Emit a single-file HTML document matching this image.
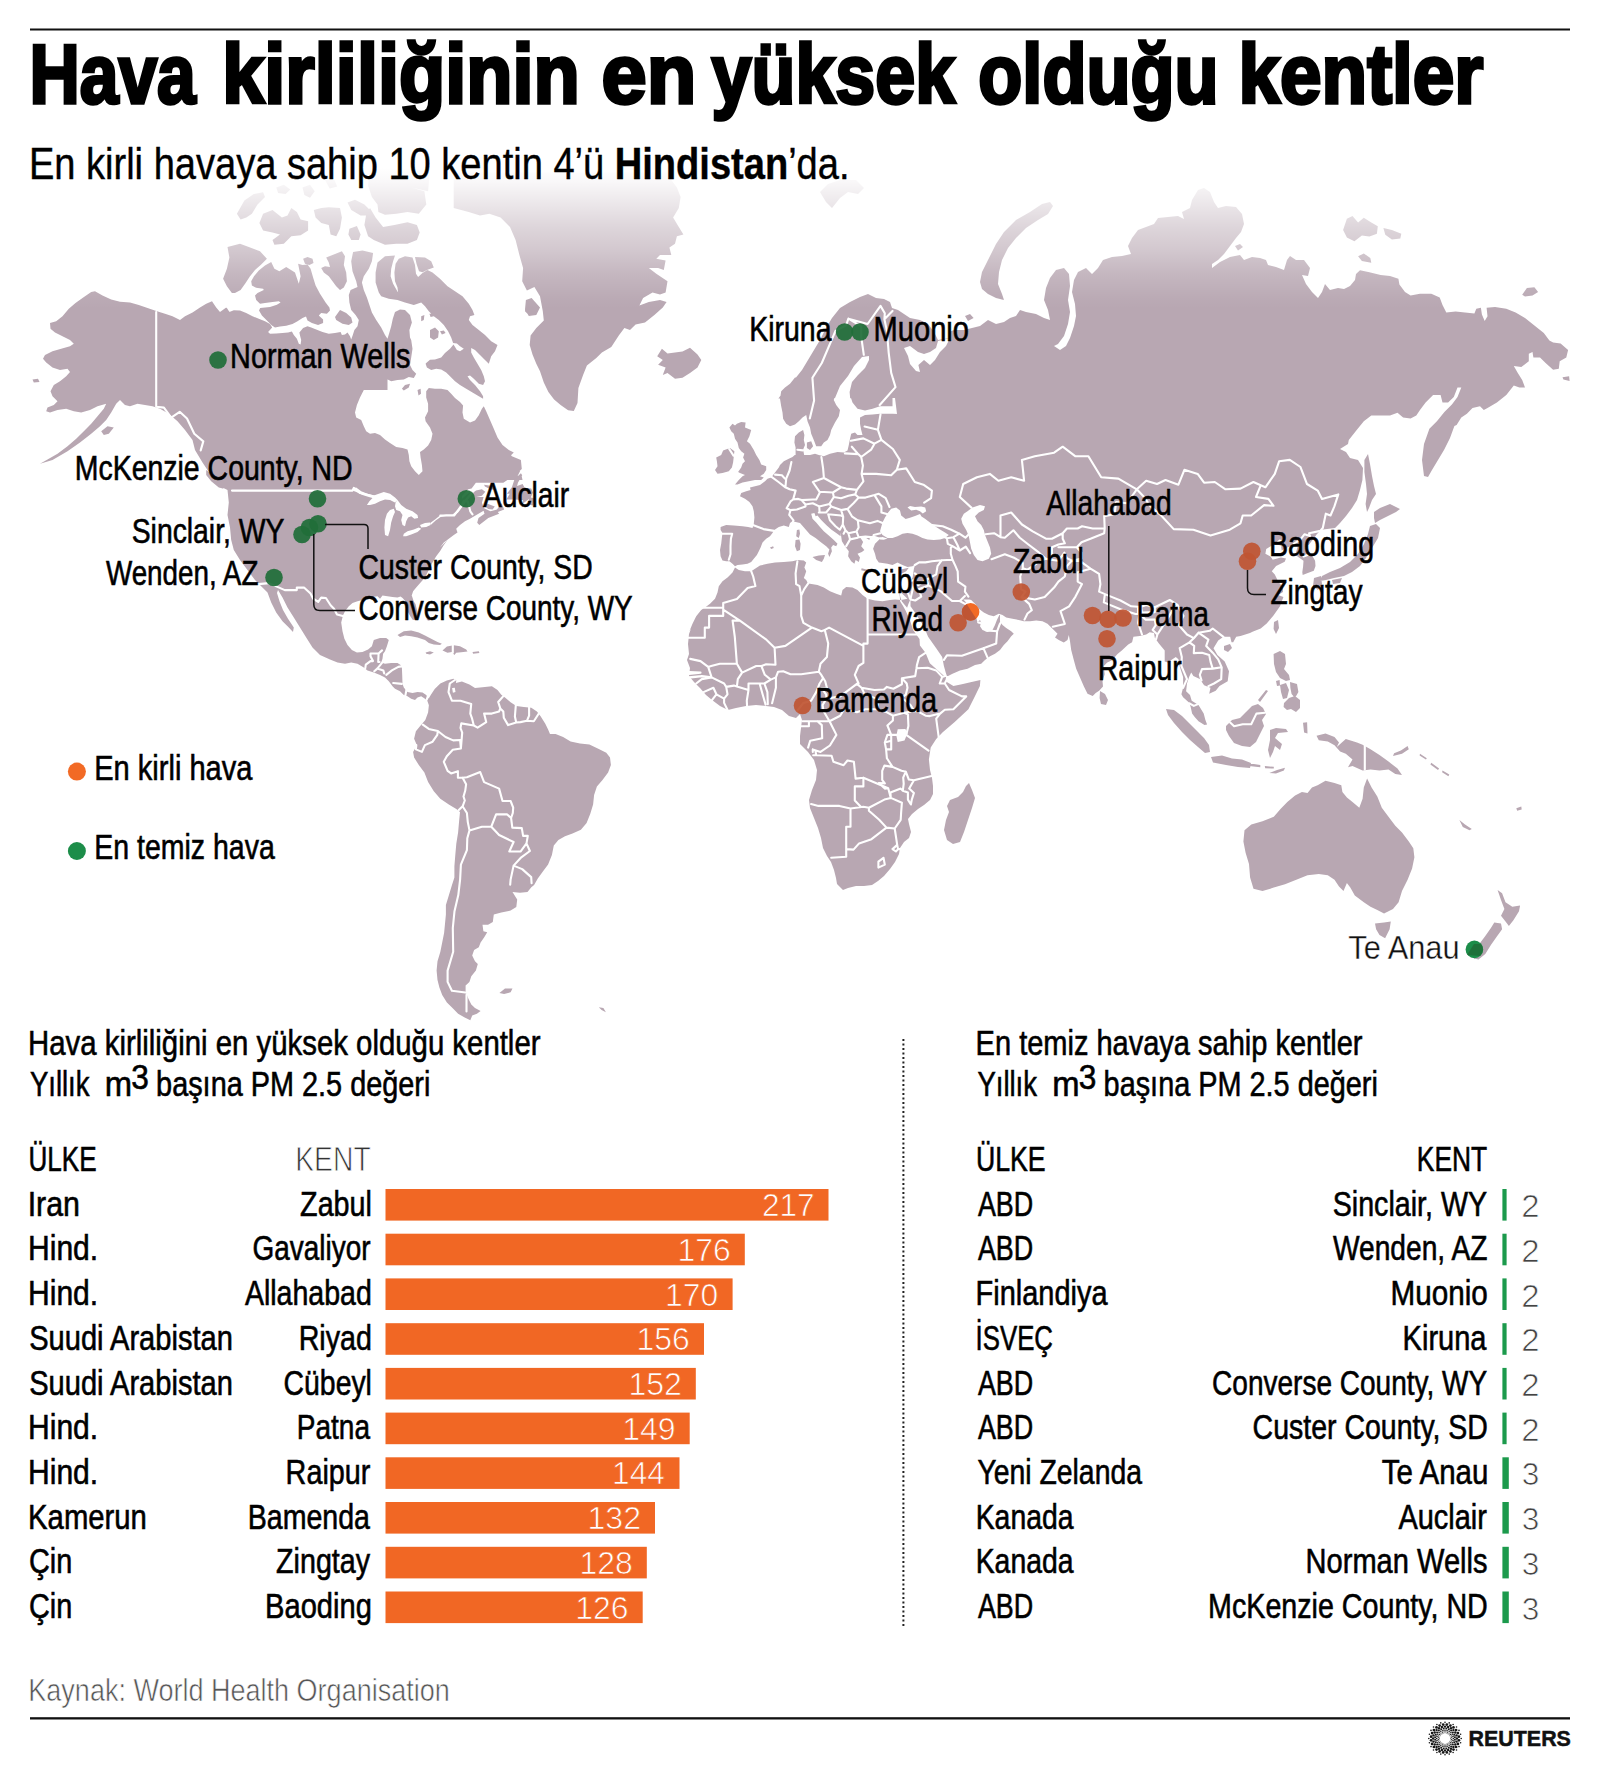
<!DOCTYPE html>
<html lang="tr"><head><meta charset="utf-8"><title>Hava kirliliğinin en yüksek olduğu kentler</title>
<style>
html,body{margin:0;padding:0;background:#fff}
body{width:1600px;height:1784px;overflow:hidden}
svg{display:block}
text{font-family:"Liberation Sans",sans-serif}
</style></head><body>
<svg width="1600" height="1784" viewBox="0 0 1600 1784">
<defs>
<linearGradient id="fade" gradientUnits="userSpaceOnUse" x1="0" y1="168" x2="0" y2="309">
<stop offset="0" stop-color="#fff" stop-opacity="1"/>
<stop offset="0.085" stop-color="#fff" stop-opacity="0.93"/>
<stop offset="0.252" stop-color="#fff" stop-opacity="0.73"/>
<stop offset="0.418" stop-color="#fff" stop-opacity="0.53"/>
<stop offset="0.586" stop-color="#fff" stop-opacity="0.37"/>
<stop offset="0.752" stop-color="#fff" stop-opacity="0.18"/>
<stop offset="0.92" stop-color="#fff" stop-opacity="0.04"/>
<stop offset="1" stop-color="#fff" stop-opacity="0"/>
</linearGradient>
</defs>
<rect width="1600" height="1784" fill="#fff"/>

<g id="land" fill="#b8a7b2" stroke="none">
<path d="M227.5,246.9 L240,243.8 L248.8,246.9 L260,251.2 L266.9,258.8 L261.2,264.4 L255,270 L250,276.2 L245.6,283.1 L240.6,290 L235,293.1 L231.9,293.1 L226.9,286.2 L223.1,278.8 L226.9,268.8 L229.4,257.5Z M271.2,261.9 L274.4,268.8 L279.4,271.2 L286.2,266.9 L295,272.5 L298.8,283.8 L300.6,276.2 L298.1,263.8 L302.5,265 L307.5,264.4 L310.6,268.8 L313.1,277.5 L315.6,285.6 L320,293.8 L325.6,302.5 L329.4,307.5 L330,310.6 L326.9,313.8 L321.2,313.1 L318.8,315.6 L323.1,319.4 L323.1,323.1 L318.1,325 L311.9,323.1 L307.5,320.6 L306,316.5 L302.5,318.1 L297.5,321.2 L292.5,324 L286.2,325.8 L280,326.5 L275,327.5 L271.9,325.6 L266.9,320.6 L261.9,315.6 L259,310.6 L260.2,308.1 L270,306.9 L276.9,304.8 L280.6,302.5 L278.8,301.2 L272.5,301.9 L265,303.1 L260,303.8 L256.2,300 L255,295.6 L257.5,293.1 L263.8,290 L263.1,288.8 L256.2,287.8 L251.9,285.6 L251.2,281.2 L254,276.2 L258.8,270.6 L265,265.6Z M303.1,258.8 L307.5,256.9 L312.5,258.8 L313.5,263.1 L309.4,265 L305,263.8Z M220,313.1 L224.4,311.9 L226.9,308.1 L229.4,311.9 L233.8,310.2 L240,310.6 L246.2,313.1 L252.5,316.2 L258.8,318.8 L265,321.2 L270,324 L272.2,327.5 L268.1,331.9 L270,333.8 L276.2,333.5 L282.5,333.1 L288.1,332.5 L291.9,331.5 L293.8,335 L296.9,338.8 L298.8,343.8 L300.6,344.4 L301.2,340 L300,335.6 L299.4,332.5 L303.1,328.1 L307.5,326.2 L311.2,327.5 L316.2,329.4 L322.5,331.9 L328.8,333.8 L335,333.1 L340.6,331.9 L341.9,335 L345,334.4 L347.5,332.5 L350,336.2 L351.2,339.4 L352.8,335 L354.4,330 L357.5,326.2 L358.8,320 L355.6,315 L351.2,310 L349.4,302.5 L348.8,295 L350.6,290 L357.5,286.9 L356.2,281.2 L352.5,271.2 L351.2,261.2 L353.1,251.9 L362.5,250.6 L373.1,253.1 L371.9,261.2 L368.8,268.8 L363.8,276.2 L361.9,282.5 L363.8,290 L366.9,297.5 L369.4,305 L371.9,312.5 L376.2,320 L381.2,327.5 L385,335 L387.5,338.8 L387.5,390 L220,390Z M340,310 L346.2,313.1 L351.2,317.5 L352.5,322.5 L348.8,325 L342.5,323.8 L336.2,320 L335,316.9Z M326.2,257.5 L332.5,255 L341.9,251.2 L345,256.2 L343.8,265 L346.2,272.5 L346.9,281.2 L343.8,287.5 L340,290 L336.2,286.2 L332.5,281.2 L328.8,276.2 L323.8,272.5 L321.2,268.1 L325,266.2 L330,266.9 L328.8,262.5Z M377.5,262.5 L385,256.2 L395,255.6 L393.1,261.2 L391.2,268.8 L390.6,276.2 L393.1,283.8 L396.9,290.6 L398.1,292.5 L397.5,287.5 L395,281.2 L394.4,272.5 L395.6,263.8 L398.8,258.8 L405,256.2 L412.5,257.5 L415,265 L416,273.8 L418.1,276.9 L422.5,273.1 L427.5,270 L432.5,272.5 L440,278.8 L447.5,286.2 L455,291.2 L462.5,296.2 L468.8,303.8 L472.5,310 L474.4,315 L470,316.2 L468.8,320 L472.5,325 L478.8,330 L485,335 L491.2,341.2 L497.5,345 L495,351.2 L491.2,356.2 L488.8,363.8 L485,360 L480,355 L475,350 L471.2,348.1 L471.2,352.5 L473.8,357.5 L477.5,363.8 L481.2,370 L483.8,376.2 L485,381.2 L483.1,385 L478.8,383.8 L473.8,378.8 L470,375.6 L467.5,376.2 L470,380 L475,385 L480,391.2 L483.1,396.2 L483.1,398.8 L478.8,396.2 L472.5,392.5 L466.2,388.8 L460,385 L455,381.2 L450,376.2 L446.2,372.5 L441.2,369.4 L436.2,368.8 L431.2,370 L426.9,367.5 L425.6,363.8 L426.2,363.1 L430,359.8 L435,359.4 L441.2,357.5 L445,353.1 L450,348.8 L453.5,344.4 L456.9,350 L460,351.2 L463.8,348.8 L460,346.2 L456.9,343.5 L453.1,343.1 L451.2,337.5 L448.1,331.2 L443.8,325 L438.8,320 L433.8,316.2 L428.8,311.2 L425,306.2 L421.2,302.5 L413.8,305 L405,302.5 L397.5,300 L388.8,298.8 L381.2,296.2 L378.8,292.5 L375.6,282.5 L375.6,272.5Z M415,256.9 L425,257.5 L431.2,261.2 L433.8,267.5 L427.5,269.8 L422.5,272.2 L419,271.2 L416.5,263.8Z M430,330 L435,327.5 L438.8,331.2 L438.1,337.5 L433.8,340 L430,337.5Z M440,331.2 L443.8,330.6 L445.6,333.1 L441.9,334.4Z M421.2,316.2 L424.4,315 L423.8,320 L421.2,321.2Z M429.4,313.8 L432.5,313.1 L433.8,316.2 L430.6,316.9Z M525.6,305 L531.2,303.8 L537.5,307.5 L536.2,313.8 L530,316.2 L525,311.2Z M40,463.8 L47.5,459.5 L57.5,453.8 L67.5,446.2 L76.2,438.8 L83.8,431.2 L91.2,423.8 L97.5,416.2 L103.8,408.8 L106.2,403.8 L97.5,406.2 L90,410 L81.2,412.5 L73.8,411.2 L66.2,408.8 L57.5,410 L50,412.5 L46.2,411.2 L47.5,407.5 L53.8,405 L57.5,401.2 L52.5,396.2 L50.5,391.2 L53.8,385 L60,381.2 L66.2,376.2 L70,372 L67.5,368.8 L60,370 L52.5,367.5 L46.2,362.5 L43,358.8 L45,355 L52.5,351.2 L61.2,348.8 L70,346.2 L73.8,343.8 L70,340 L62.5,336.2 L55,332.5 L50.5,328.8 L50,323 L56.2,321.2 L62.5,316.2 L68.8,308.8 L75.5,303 L82.5,298 L91.2,292 L95,291.2 L102.5,295.5 L111.2,299.5 L120,301.8 L130,302.5 L138.8,305 L147.5,308 L157,311.2 L165,313.8 L172.5,316.2 L180,320 L185,316.2 L192.5,312.5 L200,307.5 L206.2,303.8 L212,301.2 L216.2,307.5 L220,312 L226.2,307.5 L230,312.5 L230,480 L213.8,480 L212.5,477.5 L202.5,462.5 L195,450 L192.5,440 L185,430 L177.5,421.2 L168.8,413.8 L160,408.8 L152.5,406.2 L145,405 L137.5,403.8 L130,406.2 L125,405 L120,400 L116.2,403.8 L111.2,412.5 L106.2,420 L100,426.2 L91.2,433.8 L80,442.5 L67.5,451.2 L52.5,460Z M101.2,431.2 L107.5,426.2 L113.8,427.5 L108.8,433.8 L103.8,435Z M32.5,379.5 L38,378.8 L39.5,382 L33.8,382.5Z M387.5,338.8 L389.4,332.5 L391.2,326.2 L392.8,318.8 L395,311.9 L400,309.4 L405,310 L410,315 L411.9,322.5 L409.4,330 L410,337.5 L411.2,340 L412.5,348.8 L411.2,357.5 L410,365 L412.5,370 L416.2,373.8 L413.8,378.1 L408.8,376.9 L403.8,379.4 L397.5,380 L391.2,381.2 L386.2,378.8 L378.8,378.1 L372.5,380 L367.5,385 L363.8,390 L360,397.5 L356.9,405 L355,412.5 L356.2,417.5 L361.2,420 L363.8,426.2 L366.2,431.2 L370,433.8 L375,433.1 L380,435 L385,439.4 L390,443.1 L396.2,446.9 L402.5,448.1 L407.5,449.4 L408.8,455 L409.4,461.2 L411.2,466.2 L415,471.2 L418.8,475 L422.5,471.2 L421.9,465 L420.6,457.5 L420,451.9 L423.8,449.4 L428.1,445.6 L431.2,440 L432.5,433.8 L430,427.5 L425.6,421.2 L425,417.5 L428.1,411.2 L428.1,403.8 L426.2,397.5 L426.2,391.2 L428.8,388.1 L435,388.8 L441.2,388.8 L447.5,390 L451.2,393.8 L455,398.1 L460,401.9 L463.1,405.6 L462.5,412.5 L463.8,418.8 L470,422.5 L475,420.6 L478.8,415.2 L481.9,408.8 L483.8,406.2 L486.2,411.2 L490,420 L493.8,428.8 L497.5,437.5 L502.5,445 L508.8,450 L513.8,452.5 L510,456.2 L503.8,460.6 L510,458.1 L517.5,460 L521.2,465 L520,471.2 L517.5,476.2 L521.2,473.8 L522.5,480 L280,480 L280,346.2 L387.5,346.2Z M401.9,388.8 L405,385 L410,383.8 L408.8,387.5 L403.8,390.6Z M417.5,390 L420.6,388.8 L421,393.8 L418.5,395.6Z M190,435 L350,435 L350,476 L425,476 L425,500 L457.1,503.3 L462.6,498.2 L466.9,494.4 L471.2,491.5 L481.9,489.3 L485.3,491.8 L481.9,495.7 L476.3,497 L483.6,497 L481.9,502.7 L484.1,508.2 L490.5,511.3 L495.2,510.1 L496.9,509.5 L501.6,503.3 L504.2,509.5 L497.8,511.9 L499.1,513.7 L488.3,517.9 L479.3,525.1 L477.2,522.7 L478.5,517.9 L484.5,513.7 L483.6,510.7 L477.6,514.3 L470,518.8 L465,521.2 L460,525 L456.2,528.8 L457.5,532.5 L453.8,535 L448.8,538.8 L443.8,542.5 L440,547.5 L447.5,540 L443.8,545 L440,551.2 L436.2,556.2 L432.5,562.5 L428.8,570 L425,577.5 L420.6,582.5 L416.2,587.5 L413.1,591.2 L411.9,595 L411.6,595.1 L413.8,601.5 L415.5,603.9 L417.2,611.1 L417.2,616.8 L415.9,619.6 L412.9,620.1 L410.3,616.3 L408.2,612.5 L405.6,607.3 L406,601.9 L402.6,598 L400.5,596.6 L397.5,597.5 L392.5,596.9 L387.5,596.2 L382.5,595.6 L380,598.8 L377.5,596.2 L372.5,596.9 L367.5,598.1 L362.5,600 L357.5,601.2 L352.5,603.1 L348.8,606.2 L345,611.2 L343.1,615 L341.2,622.5 L342.5,631.2 L344.4,638.8 L347.5,645 L351.9,650 L356.9,652.5 L362.5,651.9 L368.1,649.4 L371.9,646.2 L373.8,640 L380,638.1 L386.2,638.1 L388.8,640 L386.9,646.2 L385,651.2 L383.1,653.8 L382.5,658.8 L381.2,662.5 L385,663.8 L391.2,663.1 L397.5,663.1 L400.6,665 L401.9,668.1 L402.2,675 L402.5,683.8 L403.8,687.5 L407.5,691.9 L412.5,693.1 L417.5,691.9 L422.5,692.5 L426.2,695 L428.8,698.8 L430,700 L428.8,705 L427.5,701.2 L425,698.8 L421.2,696.2 L417.5,697.5 L415,700 L411.2,698.8 L407.5,696.2 L403.8,695 L400,691.2 L395,688.8 L392.5,686.2 L388.8,681.2 L385,677.5 L380,675 L373.8,672.5 L367.5,670.6 L363.8,667.5 L357.5,663.8 L351.2,662.5 L345,663.8 L337.5,662.5 L330,659.5 L320,655 L312.5,647.5 L306.2,637.5 L300,627.5 L293.8,617.5 L287.5,607.5 L282.5,597.5 L278,590 L277,593 L279.5,601.2 L283,610 L288,618.8 L293.8,627.5 L293,632 L288.8,627.5 L282.5,621.2 L276.2,612.5 L271.2,602.5 L267.5,592.5 L261.2,586.2 L255,580 L247.5,570 L240,560 L233.8,550 L231.2,540 L230,527.5 L227.5,515 L228.8,502.5 L227.5,490 L220,486.2 L212.5,477.5 L202.5,462.5 L195,450 L192.5,437.5Z M443.3,509.5 L443.3,490.6 L477.6,463.5 L505.5,449 L511.9,456.3 L520.9,459.9 L521.8,469.1 L515.8,474.6 L503.3,482.7 L488.3,482.7 L475.9,482.7 L471.6,488.6 L468.2,489.3 L461.8,496.3 L456.2,503.9Z M206.2,470 L211.2,473.8 L218.8,483.8 L223.8,488.8 L218.8,487.5 L211.2,481.2 L206.2,475Z M520.9,473.2 L522.2,475.3 L517.9,482.7 L517.1,486 L522.6,484 L524.8,487.9 L531.2,488.6 L532.9,492.5 L530.8,497.6 L534.2,498.2 L534.6,499.5 L532.9,505.5 L528.2,504.5 L529.1,498.9 L522.2,503.9 L523.1,500.1 L514.1,499.5 L506.3,499.5 L509.8,493.8 L506.8,493.8 L511.9,487.3 L514.5,479.3Z M484.9,506.4 L486.2,503.3 L494.8,506.4 L492.6,509.5 L488.3,508.9Z M484.1,484.7 L492.6,486 L496.1,489.9 L490.5,489.3 L484.9,486.6Z M397.5,635 L403.8,631.2 L411.2,630.6 L418.8,632.5 L425,635.6 L431.2,638.8 L437.5,641.9 L441.9,643.8 L440,645 L433.8,644.4 L428.8,643.1 L425,640 L417.5,637.5 L411.2,636.2 L405,635.6 L400,636.9Z M425.6,652.5 L430,651.2 L433.8,652.5 L430,654.4 L426.2,653.8Z M442.5,650.6 L446.9,646.5 L453.8,645.2 L460,646.2 L466.2,649.4 L467.5,651.5 L461.2,652.2 L456.2,652.8 L454.4,655 L451.9,651.9 L447.5,652.8Z M472.5,651.9 L478.8,651.2 L479.4,653.1 L473.1,653.8Z M426.2,615 L428.8,614.4 L430.2,618.1 L429.4,621 L426.9,620Z M200,380 L292,380 L292,442 L200,442Z M422,476 L462,476 L462,506 L422,506Z M453.7,172.5 L667.5,172.5 L671.3,180 L676.9,187.5 L680.6,196.9 L678.8,208.1 L673.1,217.5 L678.8,226.9 L683.4,234.4 L676.9,236.3 L675,243.8 L669.4,247.5 L671.3,255 L660,255 L656.3,258.8 L665.6,260.6 L663.8,270 L658.1,268.1 L648.8,268.1 L656.3,273.8 L667.5,281.3 L665.6,292.5 L660,294.4 L652.5,292.5 L643.1,298.1 L639.4,305.6 L648.8,301.9 L660,300 L666.6,301.9 L662.8,307.5 L654.4,315 L645,322.5 L635.6,324.4 L630,330 L624.4,328.1 L618.8,335.6 L611.3,346.9 L601.9,352.5 L596.3,358.1 L586.9,365.6 L583.1,375 L578.4,388.1 L577.5,403.1 L573.8,411 L568.1,410.3 L560.6,405 L554.1,399.4 L548.4,391.9 L543.8,382.5 L540,371.3 L536.3,363.8 L532.5,354.4 L529.7,345 L530.6,335.6 L536.3,328.1 L543.8,320.6 L542.8,311.3 L540,296.3 L534.4,286.9 L526.9,290.6 L522.2,281.3 L523.1,268.1 L519.4,255 L515.6,240 L510,226.9 L500.6,217.5 L489.4,213.8 L480,215.6 L468.7,211.9 L453.7,208.1Z M525.9,300 L531.6,298.1 L540,307.5 L536.3,315 L528.8,315.9 L525,309.4Z M657.2,356.3 L661.9,348.8 L667.5,353.4 L675,352.5 L682.5,351.6 L690,347.8 L697.5,354.4 L701.3,360 L697.5,367.5 L690,373.1 L682.5,377.8 L675,378.8 L667.5,373.1 L662.8,375 L665.6,367.5 L658.1,364.7 L662.8,360Z M428.7,698.4 L430.9,694.7 L434.7,689.1 L440.3,683.4 L446.9,680.6 L453.4,678.8 L456.3,680.3 L455.9,682.9 L461.9,681.6 L469.4,684.4 L475,688.1 L482.5,687.2 L491.9,686.3 L497.5,690 L501.3,694.7 L505,697.5 L510.6,702.2 L516.3,705.9 L523.8,706.9 L531.3,707.8 L536.9,711.6 L540.6,716.3 L545.3,723.8 L548.1,729.4 L550,734.1 L555.6,734.1 L563.1,736.9 L570.6,741.6 L580,743.4 L589.4,744.4 L598.8,749.1 L606.3,752.8 L610,757.5 L610.9,765 L608.1,772.5 L602.5,780 L596.9,786.6 L594.1,795 L593.1,804.4 L590.3,813.8 L586.6,823.1 L580.9,829.7 L572.5,833.4 L565,836.3 L558.4,840 L553.8,845.6 L551.9,855 L548.1,864.4 L542.5,871.9 L537.8,878.4 L534.1,885 L531.3,887.2 L527.5,891.9 L520,892.8 L512.5,891.9 L517.2,899.4 L516.3,906.9 L510.6,910.6 L501.3,912.5 L493.8,914.4 L492.8,921.9 L488.1,924.7 L482.5,924.7 L483.4,931.3 L487.2,932.2 L484.4,936.9 L480.6,942.5 L478.8,947.2 L474.1,950 L472.2,955.6 L475,961.3 L477.8,964.1 L475.9,970.6 L471.3,976.3 L469.4,981.9 L465.6,985.6 L465.6,991.3 L468.4,998.8 L471.3,1004.4 L475,1008.1 L480.6,1010.9 L476.9,1013.8 L472.2,1015.6 L470.3,1020.3 L464.7,1017.5 L458.1,1013.8 L452.5,1008.1 L446.9,1002.5 L442.2,995 L439.4,987.5 L437.5,980 L436.6,970.6 L437.5,961.3 L440.3,951.9 L442.2,942.5 L444.1,933.1 L445,923.8 L445.9,914.4 L445.9,905 L448.8,895.6 L451.6,886.3 L454.4,877.5 L454.4,866.3 L455.3,855 L456.3,843.8 L458.1,832.5 L459.1,821.3 L460,811.9 L456.3,809.1 L448.8,804.4 L440.3,798.8 L433.8,791.3 L428.1,781.9 L424.4,772.5 L418.8,765 L414.1,757.5 L413.1,751.9 L416.9,745.3 L414.1,738.8 L415.9,731.3 L420.6,725.6 L425.3,720 L428.1,712.5 L429.1,703.1Z M499.4,993.1 L505,988.4 L512.5,988.4 L510.6,992.2 L504.1,994.1Z M598.8,1007.2 L603.4,1008.1 L605.9,1012.3 L601.6,1010Z M735,567.5 L738.8,570 L745,571.2 L751.2,571.2 L755,568.8 L760,565.6 L767.5,563.8 L775,562.5 L783.8,561.9 L792.5,561.2 L797.5,560 L803.8,560.6 L806.2,562.5 L804.4,567.5 L806.2,571.2 L805,575 L803.8,578.1 L806.2,580 L807.5,582.5 L810,583.8 L817.5,585 L823.8,587.5 L830,591.2 L836.2,593.8 L841.2,595.6 L842.5,590 L846.2,586.9 L852.5,587.5 L857.5,590 L862.5,595 L867.5,598.8 L875,600.6 L882.5,601.2 L890,600 L895,599.4 L901.2,600 L907.5,598.8 L898.9,590.6 L899.8,596.6 L900.2,601.5 L903.2,606.3 L905.8,611.1 L910.1,620.6 L913.1,629.9 L919.5,639.1 L919.9,645.5 L925.5,652.7 L929.8,663.3 L942.7,674.8 L946.1,676.9 L945.2,680.9 L953.4,686.1 L961.9,684.3 L970.5,682.2 L980.4,680 L979.9,686.1 L974.8,696.4 L968.4,709.3 L954.7,722.1 L942.7,732.3 L936.2,739.1 L930.7,747.6 L928.9,759.6 L930,770 L932,778 L933,786 L933,794 L930,800 L924,805 L918,809 L912,814 L908,819 L909,824 L911,832 L909,838 L904,842 L900,848 L899,854 L895,862 L890,869 L884,876 L878,881 L872,885 L864,886 L856,886 L848,888 L843,890 L837,884 L836,878 L834,870 L831,862 L827,856 L823,848 L821,838 L818,828 L814,818 L810,808 L809,800 L812,790 L816,780 L817,770 L814,760 L808,752 L800,744 L800,736 L801,728 L802,720 L800,714 L796,718 L789,716 L782,710 L774,707 L766,706 L756,705 L746,706 L736,708 L728,710 L720,706 L712,700 L706,695 L700,688 L694,682 L689,676 L690,668 L687,660 L689,654 L688,644 L689,634 L692,626 L695,622 L689.4,631.2 L692.5,623.8 L696.2,616.2 L701.2,610 L705,607.5 L710,603.8 L715,598.8 L717.5,592.5 L718.8,586.2 L722.5,581.2 L727.5,577.5 L732.5,572.5Z M969,783 L972,790 L975,798 L972,808 L968,820 L964,832 L960,842 L953,844 L947,840 L944,830 L946,820 L949,812 L947,806 L950,800 L958,797 L963,792 L966,786Z M716.2,457.5 L721.2,455 L723.1,450.6 L730,448.1 L734.4,451.2 L733.8,456.2 L733.1,462.5 L731.9,467.5 L728.8,471.2 L722.5,473.1 L717.5,473.8 L715,470 L717.5,466.2 L716.9,461.2Z M736.9,423.8 L741.2,421.9 L745.6,422.5 L745,427.5 L751.2,430 L749.4,436.2 L746.9,441.2 L750,443.8 L753.8,450 L756.2,455 L759.4,460 L761.2,464.4 L766.2,466.2 L766.2,470 L763.8,473.8 L760,476.2 L763.8,477.5 L761.2,480 L755,480 L748.8,481.2 L742.5,482.5 L737.5,484.4 L735,484.4 L738.8,480 L742.5,476.2 L745,475 L740,473.1 L738.1,471.9 L741.2,467.5 L742.5,463.8 L745,461.2 L743.1,457.5 L744.4,453.8 L741.2,451.2 L738.8,448.1 L737.5,442.5 L735,438.8 L733.8,433.8 L731.2,431.2 L729.4,427.5 L732.5,423.8 L735,425.6Z M841.2,377.5 L840,382.5 L837.5,387.5 L835,393.8 L833.8,400 L836.2,405 L840,410 L838.8,416.2 L835,422.5 L831.2,430 L830,435 L827.5,440 L823.8,442.5 L821.2,446.2 L816.2,446.2 L813.8,440 L811.2,433.8 L810,427.5 L807.5,421.2 L806.2,415 L802.5,417.5 L798.8,421.2 L795,424.4 L790,426.2 L786.2,423.8 L783.1,418.8 L782.5,412.5 L781.2,406.2 L780,398.8 L781.2,391.2 L785,387.5 L790,383.8 L795,377.5Z M892.5,377.5 L892.5,406.2 L880,406.2 L872.5,408.8 L865,410.6 L857.5,408.8 L852.5,402.5 L850,395 L849.4,387.5 L850,377.5Z M795,436.2 L798.8,432.5 L803.1,430 L804.4,435 L803.8,440 L805,445 L803.1,449.4 L804.4,456.2 L795.6,456.2 L795.6,447.5 L794.4,442.5Z M806.9,442.5 L811.2,441.2 L813.1,446.2 L810,450 L806.9,448.1Z M792.5,521.2 L790,523.1 L788.8,526.9 L783.8,525.6 L778.8,526.9 L775,529.4 L771.9,533.8 L770,536.2 L766.2,538.8 L762.5,542.5 L760.6,547.5 L758.8,551.2 L756.9,555 L753.8,558.8 L751.2,561.9 L747.5,563.8 L742.5,564.4 L737.5,565 L735,566.2 L732.5,563.8 L729.4,561.2 L726.2,561.2 L722.5,560.6 L720.6,556.2 L720,550 L721.2,543.8 L721.9,537.5 L722.5,533.1 L720.6,530 L720.6,526.9 L726.2,525 L733.8,525.6 L742.5,526.2 L748.1,526.9 L752.5,528.1 L753.8,523.8 L754.4,517.5 L753.8,511.2 L752.5,506.2 L749.4,501.9 L745,498.8 L740,496.2 L741.2,493.1 L746.2,491.2 L750.6,490 L750,487.5 L755,486.2 L760,485 L765,481.2 L767.5,478.8 L771.2,477.5 L775,472.5 L778.8,467.5 L780,465 L783.8,461.2 L788.8,458.8 L792.5,456.9 L796.2,453.8 L803.8,455Z M803.8,455 L810,455 L815,453.8 L818.8,455 L823.8,456.2 L830,453.8 L837.5,451.9 L843.8,452.5 L847.5,450.6 L848.8,445 L850,438.8 L851.2,433.8 L855,432.5 L857.5,435 L862.5,435 L861.2,430 L860,423.8 L860,417.5 L865,415 L872.5,414.4 L880,413.8 L892.5,413.8 L1030,420 L1030,600 L907.5,598.8 L910.6,595 L912.5,588.8 L913.8,583.8 L915,578.8 L916.2,573.8 L917.5,568.8 L918.8,565 L916.2,563.8 L912.5,566.2 L907.5,566.9 L902.5,565 L897.5,562.5 L892.5,565 L887.5,563.8 L882.5,563.1 L878.8,562.5 L876.2,558.8 L875,553.8 L873.1,548.8 L875,543.8 L878.8,540 L881.2,537.5 L879.4,537.5 L875,536 L870,536.2 L869.4,540 L866.2,538.1 L863.1,536.2 L860.6,538.1 L863.1,541.9 L861.2,546.2 L864.4,550 L861.9,551.9 L857.5,553.8 L860,557.5 L858.8,561.9 L855.6,560 L854.4,563.8 L851.2,561.2 L848.1,556.2 L848.8,551.2 L845,546.2 L841.9,541.2 L840.6,532.5 L840.6,536.2 L836.2,533.1 L831.2,529.4 L826.2,525 L821.2,520 L817.5,515.6 L815.6,516.2 L814.4,513.1 L811.2,513.8 L812.5,518.8 L816.2,522.5 L820,526.9 L823.8,531.2 L828.8,535.6 L833.8,540 L837.5,543.8 L836.2,546.2 L833.1,545 L831.2,547.5 L831.9,551.2 L829.4,556.9 L828.1,553.8 L829.4,549.4 L826.2,546.2 L821.2,542.5 L815.6,538.1 L810,534.4 L805,528.8 L800,523.1 L792.5,521.2Z M812.5,556.9 L818.8,555.6 L825,555 L823.8,558.8 L821.9,561.9 L816.2,560Z M795.6,540 L799.4,539.4 L800.6,543.8 L800,550 L796.9,551.2 L795,546.2Z M796.9,530 L799.4,529.4 L800,533.8 L798.8,538.1 L796.2,536.2Z M770,547.5 L773.1,546.2 L773.8,548.1 L771.2,549Z M861.6,568.2 L865.5,569.2 L871.1,569.7 L873.2,570.3 L869.8,571.3 L866.4,571.6 L861.2,570.3Z M898.9,570.8 L901.9,569.2 L908.8,567.7 L906.2,571.3 L901.9,573.4 L899.4,572.9Z M778.4,398.4 L786,388 L794,380 L802,370 L808,360 L814,350 L820,340 L826,328 L832,318 L840,308 L850,302 L860,297 L868,294 L876,298 L884,299 L890,302 L892,308 L898,310 L904,314 L910,318 L920,320 L928,324 L934,332 L938,340 L950,338 L949,332 L954,330 L964,330 L972,328 L980,326 L988,320 L996,324 L1004,322 L1010,318 L1016,316 L1020,310 L1026,312 L1036,314 L1044,318 L1050,320 L1048,310 L1044,300 L1046,288 L1050,278 L1056,270 L1064,268 L1069,274 L1070,286 L1068,300 L1070,312 L1068,324 L1064,336 L1058,344 L1054,346 L1060,350 L1066,346 L1070,338 L1074,326 L1076,316 L1075,304 L1072,292 L1074,280 L1078,272 L1086,268 L1092,274 L1098,268 L1103,260 L1112,257 L1122,256 L1131,254 L1128,246 L1132,238 L1138,230 L1146,227 L1154,224 L1158,218 L1168,217 L1178,216 L1184,219 L1182,212 L1190,208 L1192,200 L1198,190 L1204,188 L1210,192 L1214,202 L1218,208 L1226,206 L1236,207 L1242,214 L1244,224 L1241,232 L1236,238 L1230,246 L1224,254 L1218,260 L1212,264 L1212,268 L1220,262 L1230,257 L1240,255 L1244,260 L1252,257 L1260,258 L1266,260 L1268,265 L1276,267 L1284,270 L1287,260 L1290,256 L1296,260 L1304,260 L1310,268 L1308,276 L1302,275 L1306,284 L1312,292 L1318,298 L1322,292 L1325,284 L1330,290 L1338,288 L1344,289 L1350,286 L1355,280 L1356,274 L1360,270.3 L1369.4,272.2 L1380.6,275 L1390,275.9 L1398.4,278.8 L1399.4,284.4 L1405,291.9 L1410.6,295.6 L1420,293.8 L1431.3,293.8 L1439.7,297.5 L1442.5,305 L1446.3,312.5 L1455.6,311.6 L1465,312.5 L1474.4,313.4 L1476.3,308.8 L1480.9,307.8 L1481.9,314.4 L1484.7,320.9 L1487.5,316.3 L1486.6,307.8 L1495,306.9 L1506.3,308.8 L1515.6,312.5 L1525,318.1 L1534.4,325.6 L1543.8,333.1 L1549.4,340.6 L1553.1,342.5 L1560.6,343.4 L1568.1,350 L1566.3,357.5 L1559.7,361.3 L1558.8,368.8 L1553.1,369.7 L1545.6,363.1 L1540,357.5 L1533.4,357.5 L1532.5,351.9 L1528.8,353.8 L1528.8,361.3 L1521.3,366.9 L1513.8,365.9 L1517.5,372.5 L1522.2,380 L1525,387.5 L1519.4,387.5 L1513.8,385.6 L1506.3,395 L1496.9,402.5 L1487.5,408.1 L1483.8,410 L1480,406.3 L1472.5,408.1 L1466.9,413.8 L1461.3,417.5 L1456.6,425 L1454.4,426 L1450,438 L1444,450 L1438,460 L1432,470 L1428,477 L1424,476 L1422,460 L1424,444 L1429.4,428.8 L1436.9,421.3 L1444.4,411.9 L1451.9,404.4 L1457.5,396.9 L1461.3,387.5 L1457.5,387.5 L1453.8,396.9 L1448.1,402.5 L1442.5,402.5 L1440.6,395 L1433.1,395 L1425.6,402.5 L1420,410 L1416.3,415.6 L1410.6,418.4 L1403.1,417.5 L1397.5,412.8 L1390,415.6 L1380.6,415.6 L1371.3,415.6 L1363.8,421.3 L1356.3,430.6 L1348.8,440 L1348,444 L1340,449 L1346,452 L1350,458 L1358,460 L1363,468 L1362.4,480 L1360,490 L1357,500 L1352,508 L1346,516 L1340,523 L1335,528 L1321.1,529.7 L1316.8,534.3 L1309.1,544.5 L1307.4,545.6 L1307,548.9 L1312.1,555.4 L1315.1,560.8 L1315.5,566.1 L1313.8,570.8 L1307.8,572.9 L1302.7,574.9 L1302.3,572.3 L1303.1,566.6 L1303.5,560.8 L1297.5,556.5 L1295.4,554.3 L1297.5,547.2 L1293.2,545 L1285.5,548.3 L1281.7,550.5 L1281.2,546.7 L1284.2,540.5 L1279.5,539.4 L1273.1,545 L1266.2,548.9 L1265.4,553.8 L1270.5,556.5 L1272.7,559.7 L1280.8,557.6 L1286,558.6 L1284.7,561.8 L1276.1,566.1 L1271.8,571.3 L1274.8,574.4 L1278.2,581.6 L1283,587.6 L1283,592.1 L1278.2,595.1 L1283.4,597.1 L1280,606.3 L1273.1,615.9 L1266.7,623.4 L1260.7,628.5 L1252.5,631.8 L1250,633.1 L1240.5,635.9 L1236.2,636.8 L1233.2,642.3 L1231.5,642.3 L1230.2,636.8 L1223.4,636.8 L1218.2,640.5 L1213.5,648.2 L1217.4,654.9 L1224.7,661.6 L1229,671.3 L1227.7,681.3 L1219.5,686.1 L1215.7,690.8 L1209.2,693.8 L1210.5,687.8 L1204.1,685.2 L1199.8,679.1 L1193.4,676.1 L1191.2,672.6 L1189.1,676.9 L1187,683.5 L1186.1,691.3 L1190,695.1 L1191.7,700.7 L1198.5,705 L1203.7,713.6 L1205.4,720 L1207.1,724.6 L1204.5,725.1 L1198.5,721.2 L1194.7,717 L1192.1,713.6 L1190.8,707.6 L1189.5,702.9 L1183.1,697.3 L1181.4,694.3 L1183.1,687.8 L1183.1,676.9 L1181,670.4 L1179.2,664.7 L1178.4,659.3 L1175.8,657.1 L1169,661.6 L1167.7,662.4 L1164.7,661.6 L1164.7,650.4 L1158.7,643.2 L1154.8,637.7 L1154,633.1 L1149.7,632.2 L1146.2,634.5 L1139.8,635.9 L1133.4,636.8 L1132.1,642.3 L1128.2,644.5 L1121.8,650.4 L1117.5,654 L1112,660.2 L1107.2,662.4 L1103.8,666 L1104.7,674.3 L1102.5,681.3 L1103,686.5 L1099.1,690.8 L1095.7,693 L1092.7,696 L1087.5,693.8 L1083.8,686.2 L1080,677.5 L1076.2,668.8 L1073.8,660 L1071.2,650 L1070,641.2 L1068.8,635 L1067.5,640 L1063.8,642.5 L1058.8,640 L1055,637.5 L1057.5,633.8 L1053.8,630 L1050,626.2 L1047.5,623.8 L1042.5,621.2 L1036.2,620.6 L1030,621.2 L1023.8,621.2 L1018.8,620 L1012.5,618.8 L1006.2,617.5 L1002.5,615 L998.8,613.8 L993.8,616.2 L988.8,615 L983.8,612.5 L978.8,608.8 L975,603.8 L971.2,600 L966.2,598.8 L962.5,598.8 L965,601.2 L968.1,605 L971.2,610 L973.8,613.8 L976.2,617.5 L977.5,622.5 L980,620 L981.2,622.5 L980,626.2 L982.5,630 L987.5,631.9 L992.5,630 L995,625 L996.9,620 L1000,613.8 L1000,621.2 L1002.5,625 L1006.2,628.1 L1011.2,631.2 L1013.8,633.8 L1011.2,636.2 L1007.5,641.2 L1003.8,645 L1000,650 L995,653.8 L990,656.2 L985,660 L981.2,663.8 L975,665 L967.5,668.8 L960,670.6 L952.5,673.8 L948.1,676 L946.9,676.1 L945.7,672.6 L943.9,666 L942.2,657.1 L936.2,648.2 L928.1,636.8 L923.4,625.3 L919.9,620.6 L913.9,611.1 L910.5,606.3 L910.5,599 L908.4,603.9 L907.1,607.8 L901.9,601.5 L900.2,596.6 L899.4,590.6 L905.4,591.1 L907.9,589.1 L910.5,582.6 L912.7,577 L913.9,568.7 L915.7,562.9 L895,398 L852,398Z M980,282 L982,272 L988,260 L996,244 L1004,232 L1016,220 L1030,212 L1042,204 L1050,202 L1053,206 L1048,214 L1038,220 L1026,228 L1016,238 L1008,248 L1002,260 L999,272 L998,284 L1002,294 L1004,300 L996,298 L988,294 L982,289Z M965,316 L970,314 L973.6,318 L968,321Z M820,192 L828,184 L840,180 L856,180 L864,188 L858,194 L848,192 L840,198 L832,208 L826,202Z M1235,246 L1240,244 L1243,247 L1238,250.4Z M1343.1,230 L1346.9,218.8 L1352.5,215.9 L1358.1,222.5 L1363.8,217.8 L1371.3,222.5 L1377.8,226.3 L1376.9,233.8 L1369.4,236.6 L1361.9,235.6 L1354.4,241.3 L1346.9,237.5Z M1383.4,228.1 L1391.9,230 L1401.3,233.8 L1400.3,238.4 L1391.9,239.4 L1385.3,234.7Z M1358.1,256.3 L1363.8,253.4 L1370.3,258.1 L1371.3,262.8 L1361.9,260.9Z M1522.2,294.7 L1526.9,288.1 L1534.4,287.2 L1538.1,291.9 L1532.5,295.6 L1525,296.6Z M1562.5,377.2 L1569.1,376.3 L1569.6,380.9 L1563.4,379.6Z M1368,454 L1370,464 L1372,476 L1374,486 L1376,494 L1372,500 L1369,508 L1367,512 L1365.6,504 L1367,494 L1366,484 L1364.4,472 L1364.4,460Z M1374,512 L1380,508 L1390,504 L1400,509 L1396,512 L1388,516 L1380,520 L1375,523 L1374,518Z M1376,524 L1380,528 L1378,538 L1372,548 L1366,558 L1360,566 L1352,572 L1344,576 L1334,578 L1326,580 L1320,581 L1322,576 L1330,572 L1340,568 L1350,562 L1358,554 L1364,544 L1368,534 L1370,526Z M1332,580 L1342,578 L1340,583 L1333,584Z M1314,578 L1321,576 L1322,584 L1318,590 L1313,586Z M1100,691 L1105,694 L1108,700 L1106,705 L1101,704 L1099.6,698Z M1224,646 L1230,644 L1232,648 L1228,652 L1224,650Z M1274,622 L1278,620 L1279,628 L1276,634 L1273.6,629Z M1166,709 L1174,710 L1182,716 L1190,724 L1198,732 L1204,738 L1209,745 L1210,752 L1205,753 L1198,747 L1190,740 L1182,732 L1174,723 L1168,715Z M1211,757 L1222,755.6 L1232,758.4 L1242,759.6 L1251,763 L1250,768 L1238,767 L1226,765 L1213,762.4Z M1226,726 L1232,720 L1240,718 L1246,712 L1252,706 L1258,704 L1263,708 L1266,714 L1262,720 L1264,726 L1260,734 L1256,742 L1250,747 L1242,746 L1234,743 L1229,736 L1226,730Z M1270,730 L1276,728 L1286,729 L1288,732 L1278,733 L1275,738 L1282,744 L1280,750 L1275,746 L1273,752 L1270,758 L1268,750 L1270,740Z M1273.6,654 L1280,651 L1285,654 L1286,664 L1284,669 L1289,675 L1290,680 L1286,681 L1280,678 L1276,672 L1274,664Z M1284,703 L1289,698 L1295,696 L1300,700 L1300,708 L1296,712 L1291,709 L1287,710 L1283.6,707Z M1258,700 L1266,690 L1268,691 L1260,702Z M1280,685 L1286,683 L1289,690 L1287,698 L1283,699 L1281,692Z M1290,682 L1297,684 L1298.4,692 L1295,698 L1291.6,694 L1290.4,688Z M1276,681 L1279.6,680 L1280,685.6 L1277,686Z M1244.5,830.3 L1251.3,824.6 L1262.5,821.3 L1273.8,816.8 L1280.5,808.9 L1287.3,802.1 L1295.1,795.4 L1301.9,792 L1307.5,793.1 L1312,787.5 L1317.6,785.3 L1325.5,780.8 L1334.5,783 L1341.3,785.3 L1342.4,792 L1346.9,797.6 L1352.5,802.1 L1359.3,807.8 L1362.6,798.8 L1363.8,787.5 L1367.1,778.5 L1371.6,787.5 L1377.3,796.5 L1381.8,807.8 L1388.5,816.8 L1395.3,825.8 L1402,832.5 L1408.8,841.5 L1413.3,848.3 L1414.4,857.3 L1412.1,868.5 L1407.6,879.8 L1402,891 L1398.6,902.3 L1393,909 L1384,913.5 L1377.3,910.1 L1370.5,906.8 L1363.8,902.3 L1354.8,895.5 L1350.3,887.6 L1346.9,883.1 L1343.5,891 L1339,886.5 L1334.5,879.8 L1327.8,875.3 L1318.8,874.1 L1307.5,875.3 L1296.3,879.8 L1285,884.3 L1273.8,887.6 L1262.5,891 L1253.5,888.8 L1250.1,877.5 L1249,864 L1245.6,852.8 L1243.4,841.5Z M1375,923.6 L1384,922.5 L1390.8,921.4 L1389.6,929.3 L1385.1,938.3 L1379.5,934.9 L1376.1,929.3Z M1316.5,735.8 L1325.5,733.5 L1334.5,736.9 L1339,742.5 L1336.8,747 L1345.8,739.1 L1357,742.5 L1362.6,744.8 L1370.5,749.3 L1379.5,754.9 L1388.5,761.6 L1397.5,768.4 L1402,775.1 L1395.3,774 L1388.5,769.5 L1379.5,770.6 L1370.5,769.5 L1362.6,770.6 L1352.5,766.1 L1348,767.3 L1352.5,759.4 L1345.8,753.8 L1340.1,751.5 L1334.5,745.2 L1327.8,741.4 L1318.8,740.3Z M1394.1,753.3 L1400.9,750.4 L1407.6,745.9 L1408.8,749.3 L1402,753.8 L1393,756Z M1459.4,820.1 L1465,824.6 L1471.8,829.1 L1469.5,830.3 L1462.8,826.9Z M1516.3,808.2 L1521.3,806.6 L1521.7,809.6 L1517.2,810.7Z M1269.3,772.9 L1277.1,770 L1285,767.7 L1283.9,770.6 L1276,773.6Z M1240,762.3 L1249,763.2 L1260.3,765 L1260.3,767.3 L1249,766.1 L1240,765Z M1264.8,766.1 L1273.8,766.8 L1273.8,768.6 L1265.2,768.2Z M1303,722.7 L1307.1,722.3 L1307.5,733.5 L1304.1,732.4Z M1420,753.8 L1426.8,758.3 L1425.9,759.6 L1419.6,755.6Z M1431.3,762.8 L1439.1,768.4 L1438,770 L1430.4,764.6Z M1442.5,770.6 L1449.3,774.5 L1448.4,776.3 L1442.1,772.2Z M1497.6,889.9 L1502.1,893.3 L1505.5,902.3 L1512.3,906.8 L1520.1,905.6 L1519,911.3 L1513.4,920.3 L1508.9,925.9 L1505.5,921.4 L1501,915.8 L1504.4,909 L1501,900Z M1494.3,922.5 L1501,923.6 L1502.1,929.3 L1496.5,937.1 L1490.9,945 L1485.3,954 L1478.5,959.6 L1474,958.5 L1472.9,952.9 L1478.5,945 L1485.3,936 L1490.9,928.1Z M236.9,213.8 L244.4,200.6 L253.8,194.1 L263.1,192.2 L265,196.9 L257.5,204.4 L251.9,213.8 L246.3,217.5 L240.6,219.4Z M259.4,223.1 L263.1,213.8 L272.5,210 L281.9,217.5 L287.5,215.6 L291.3,208.1 L296.9,211.9 L300.6,219.4 L308.1,221.3 L308.1,230.6 L300.6,235.3 L291.3,236.3 L283.8,243.8 L274.4,244.7 L272.5,240 L280,234.4 L272.5,232.5 L263.1,230.6Z M313.8,210 L321.3,208.1 L328.8,207.2 L340,208.1 L341.9,217.5 L340,228.8 L336.3,236.3 L330.6,234.4 L328.8,225 L321.3,223.1 L315.6,217.5Z M349.4,228.8 L356.9,225.9 L360.6,234.4 L358.8,240 L351.3,240 L348.4,234.4Z M366.3,213.8 L370,208.1 L375.6,217.5 L383.1,226.9 L394.4,225 L407.5,222.2 L416.9,225 L419.7,232.5 L416.9,240 L407.5,243.8 L396.3,243.8 L385,244.7 L373.8,240 L368.1,236.3 L364.4,225Z M377.5,204.4 L388.8,195 L400,191.3 L411.3,187.5 L424.4,191.3 L426.3,204.4 L418.8,213.8 L407.5,211.9 L396.3,213.8 L385,214.7 L378.4,211.9Z M347.5,202.5 L355,199.7 L364.4,204.4 L371.9,211.9 L368.1,215.6 L360.6,215.6 L351.3,210Z M370,168.7 L430,168.7 L428.1,191.3 L411.3,187.5 L388.8,195 L377.5,204.4 L371.9,196.9 L368.1,185.6Z M276.3,187.5 L283.8,184.7 L290.3,189.4 L285.6,194.1 L278.1,193.1Z M302.5,187.5 L310,184.7 L314.7,191.3 L310,197.8 L304.4,195Z M325,180 L334.4,180 L337.2,186.6 L329.7,188.4Z"/>
</g>
<path fill="#fff" d="M352.5,488.8 L356.2,487.5 L361.2,491.2 L367.5,493.8 L373.8,495.6 L378.8,493.8 L383.8,491.9 L390,493.8 L395,497.5 L397.5,500 L395,502.5 L390,500 L385,499.4 L380,501.2 L375,503.8 L370,505 L366.9,505 L369.4,501.2 L372.5,498.1 L368.8,496.9 L362.5,495 L357.5,492.5 L352.5,490.6Z M385,520 L386.9,513.8 L390,510 L393.8,508.8 L395,511.9 L393.1,516.2 L391.2,522.5 L390,530 L388.1,536.2 L385,535 L384.4,527.5Z M397.5,500 L401.2,505 L406.2,508.8 L412.5,511.2 L417.5,515 L418.1,518.1 L414.4,518.8 L411.2,516.2 L408.1,517.5 L406.2,521.2 L405,526.2 L402.5,525 L401.2,520 L402.5,515 L400,511.2 L396.2,510 L395,506.2 L395.6,502.5Z M403.8,533.8 L407.5,531.2 L413.8,529.4 L418.8,527.5 L421.2,528.8 L417.5,531.9 L411.2,534.4 L406.2,536.2 L403.1,536.2Z M420,525 L425,523.1 L430,522.5 L430.6,525 L426.2,526.9 L421.2,527.5Z M430.2,523.1 L435,519.4 L440,515.6 L446.2,514.4 L452.5,514.4 L457.5,510.6 L459.8,506.9 L465,499.4 L471.2,491.9 L477.5,486.2 L478.8,487.5 L473.1,493.1 L466.5,501.2 L461,508.8 L458.1,512.5 L453.1,516 L446.2,515.9 L440.6,517.1 L435.6,520.6 L431,524.8Z M452.1,688.1 L454.8,687.8 L455.5,691.9 L452.9,692.8Z M880,531.2 L882.5,522.5 L885,517.5 L888.1,512.5 L891.2,508.8 L896.2,507.5 L900,510.6 L901.2,515.6 L905.6,519 L910,517.8 L915,516 L920,514 L921.5,516.5 L925,518.8 L930,522.5 L935,526.2 L940,529.4 L945,532.5 L948.8,535 L945,538.1 L940,539.4 L933.8,540 L927.5,539.4 L922.5,538.1 L917.5,535.6 L912.5,533.8 L907.5,533.1 L902.5,533.8 L897.5,536.2 L892.5,538.1 L887.5,538.1 L882.5,535Z M907.5,507.5 L910,506 L915,507 L921.2,506.5 L925.2,507.5 L926.2,511.2 L922.8,513.5 L920,511.2 L916.2,509.8 L911.2,510.5Z M967.5,511.2 L972.5,507.5 L980,505 L985,506.2 L983.8,510 L978.8,512.5 L975,516.2 L977.5,521.2 L981.2,525 L983.8,530 L985,535 L987.5,541.2 L990,547.5 L991.2,553.8 L988.8,558.8 L982.5,561.2 L977.5,560 L973.8,555 L971.2,548.8 L970,542.5 L968.8,536.2 L966.2,530 L962.5,523.8 L961.2,518.8 L963.8,513.8Z M878.8,537.8 L882.5,536.9 L887.5,538.5 L883.8,539.8 L880,539.4Z M869,360 L865,368 L858,375 L852,382 L849.6,392 L850.4,400.4 L833.8,400.4 L835,398 L840,386 L848,376 L854,366 L862,357 L869,356Z M930,352 L936,348 L938,341 L950,338 L946,346 L940,352 L935,360 L930,365 L924,360 L918.4,365 L920,372 L916,371 L910,364 L908,356 L904,348 L910,346 L918,352 L924,354Z M897.7,729.3 L905.4,728.9 L907.5,733.2 L904.5,740.4 L897.7,742.1 L896.4,735.7Z"/>
<path fill="none" stroke="#fff" stroke-width="2.1" stroke-linejoin="round" stroke-linecap="round" d="M156.2,312.1 L156.2,406.7 L163.9,407.6 L171.2,417.7 L179.7,411.8 L187,418.5 L194.3,433.7 L203.3,441.4 L200.7,450.4 M232,490.6 L352.5,490.6 L353.8,487.9 L360.2,493.1 L376.5,497 M440.3,515.5 L454.1,515.5 L460.5,507 L463.9,500.8 L467.8,501.4 L470.3,511.3 L472.5,514.3 M258.6,584.1 L268.9,583.1 L284.8,590.1 L296.8,590.1 L296.8,587.6 L304,587.6 L310.5,593.6 L313,598.5 L318.2,601.9 L321.2,597.6 L325.9,598 L330.6,605.3 L334,608.7 L337,614.4 L343.9,616.3 M365.3,668.2 L365.8,664.7 L370.5,661.1 L373,661.1 L370.5,656.2 L370.5,653.5 L378.6,653.5 L382,650.4 M378.6,653.5 L378.2,662 L379.5,662 M382,662.9 L377.3,668.6 L374.3,671.3 M377.3,668.6 L383.3,670.4 L384.2,673.4 M386.3,674.8 L391.9,670.4 L398.3,666.9 L403.9,666 M393.2,683 L401.8,683.9 M406.5,689.5 L405.2,696.4 M428.8,693.4 L426.6,699.9 M452.8,645 L452.8,652.7 M454.9,680 L449.8,683.5 L448.5,692.1 L451.9,700.7 L460.5,700.7 L471.2,704.1 L470.3,713.6 L472.1,718.7 L473.8,725.5 M473.8,725.5 L477.6,727.6 L486.2,722.1 L484.1,713.6 L491.8,713.6 L499.1,711.4 L500.3,708.4 M500.3,708.4 L498.2,702 L504.2,695.1 M500.3,708.4 L503.3,711.4 L503.8,717.8 L508.1,725.1 L516.2,722.5 M516.2,722.5 L514.9,716.5 L515.8,705.4 M516.2,722.5 L520.5,722.1 L526.9,720.8 M526.9,720.8 L529.1,715.7 L529.1,706.3 M526.9,720.8 L533.8,721.2 L539.3,712.7 M473.8,725.5 L461.3,723.4 L460.5,728 L462.2,732.7 L460.9,748.5 M422.8,724.6 L428.8,728.9 L437.8,731 M437.8,731 L445.5,737 L453.2,740.4 L460.1,740 L460.9,748.5 M416.3,745.1 L415.9,749.4 L421.9,751.9 L424.9,745.1 L432.6,741.7 L437.3,734.9 L437.8,731 M460.9,748.5 L452.8,749.8 L446.8,756.2 L443.8,761.8 L447.6,770.8 L451.1,773.4 L457.9,771.2 L457.9,777.7 L462.6,777.7 M462.6,777.7 L466.1,784.3 L465.2,790.8 L463.5,796.5 L464.8,800.5 L462.6,806.3 M462.6,806.3 L458.8,810.1 M462.6,777.7 L466.9,777.3 L480.2,772.1 L484.1,782.1 L499.1,788.6 L502.5,801 L510.6,801 L513.2,807.7 L512.8,813 L511.1,818 M462.6,806.3 L466.9,813 L467.8,822.1 L469.5,830.4 M469.5,830.4 L481.9,826.7 L491.3,826.7 M491.3,826.7 L496.1,814.4 L507.2,814.4 L511.1,818 M511.1,818 L512.3,827.6 L521.8,828.1 L523.1,835.9 L527.8,835.9 L526.5,843.4 M491.3,826.7 L499.1,835 L513.6,842 L509.3,851.5 L520.5,851.5 L526.5,843.4 M526.5,843.4 L529.9,851 L521.3,857.3 L513.6,865.6 M513.6,865.6 L522.2,869.1 L531.2,877.1 L531.6,883.2 M513.6,865.6 L510.6,879.6 L510.2,884.7 M469.5,830.4 L467.3,838.3 L466.9,850.1 L460.9,864.6 L460.1,879.6 L458.3,895.1 L454.5,911.2 L452.8,928 L453.2,951.7 L447.6,970.6 L447.6,981.9 L451.9,990.7 L467.3,992.8 M466.5,994.9 L466.5,1011.5 M722.4,533.7 L732.2,533.7 L730.9,538.8 L730.5,546.1 L730.5,554.3 L728.8,559.7 M752.8,525.1 L763.5,529.1 L774.2,530.9 M771.2,476.6 L778.5,482 L785.4,487.3 M775.1,474.6 L781.9,475.3 L784.9,478.6 M791.4,462 L789.6,470.5 L786.2,478.6 L785.4,487.3 L789.6,489.3 L795.6,490.6 L793.1,499.5 M793.1,499.5 L790.5,501.4 L786.6,508.2 L790.5,510.1 M790.5,510.1 L789.2,514.9 L793.5,520.3 L792.6,522.7 M790.5,510.1 L796.9,509.5 L805.5,506.4 L805.5,504.5 M793.1,499.5 L798.2,498.9 L801.6,500.1 L805.5,504.5 M801.6,500.1 L812.8,499.5 L816.2,499.5 L819.6,493.1 L819.6,491.8 M819.6,491.8 L812.8,482 L823.9,478 M823.9,478 L823.1,468.4 L821.4,457 M823.9,478 L831.2,482 L841.1,487.3 M819.6,491.8 L832.9,492.5 L841.1,487.3 M841.1,487.3 L846.2,488.6 L856.9,489.9 M832.9,492.5 L833.8,497 L841.1,498.2 L848.4,495.7 L855.2,494.4 M833.8,497 L829.5,503.9 M805.5,504.5 L812.8,503.3 L819.2,506.4 L829.5,503.9 M819.2,506.4 L819.6,511.9 M818.8,512.5 L826.1,512.5 L831.2,506.4 L829.5,503.9 M831.2,506.4 L841.1,510.1 L847.5,508.9 M847.5,508.9 L853.5,503.3 L858.6,497.6 L855.2,494.4 M856.9,489.9 L863.4,481.3 L861.6,473.9 M855.2,494.4 L856.9,489.9 M861.6,473.9 L862.9,465.6 L861.2,457 M844.9,453.4 L858.2,454.1 L861.2,457 M858.2,454.1 L851.8,446.7 M850.9,440.7 L863.4,438.4 L874.5,443.7 M864.6,426.6 L877.9,429.8 M861.2,457 L871.1,449.7 L874.5,443.7 M874.5,443.7 L881.4,439.9 L877.9,429.8 L880.5,414.3 M881.4,439.9 L892.9,449 L899.8,459.9 L896.8,469.8 M861.6,473.9 L876.2,473.9 L891.2,475.3 L896.8,469.8 M896.8,469.8 L906.2,468.4 L914.8,482 L923.4,484.7 L931.9,490.6 L931.1,498.2 L924.2,502.7 M858.6,497.6 L865.5,497.6 L874.5,495.1 L878.8,493.8 L885.7,498.2 L889.5,507 M874.5,495.1 L881.4,506.4 L881.4,512.5 L887.8,514.3 M857.8,520.3 L869.8,523.3 L877.5,520.9 L883.1,523.3 M847.5,508.9 L852.2,516.7 L857.8,520.3 L858.6,527.4 L856.5,531.4 M856.5,531.4 L858.6,537.2 L865.5,536.6 L873.2,537.2 L873.7,534.9 L880.5,533.2 M873.2,537.2 L871.9,540.5 M846.2,546.1 L850.1,539.4 L857.8,537.7 L858.6,537.2 M843.6,533.7 L845.4,530.3 L848.4,533.2 L850.1,539.4 M856.5,531.4 L848.4,533.2 M828.2,514.3 L841.1,515.5 L843.2,516.7 L842.8,524.5 L839.8,529.7 M828.2,514.3 L829.9,520.3 L835.5,526.2 L839.8,529.7 M843.2,516.7 L841.1,510.1 M842.8,524.5 L845.4,530.3 M809.8,418.5 L814.1,400.6 L812.4,377.7 L821.8,363 L835.5,330.9 L846.2,325.2 L848.4,318.7 M848.4,318.7 L861.2,326.4 L861.2,336.6 L863.8,354.8 M848.4,318.7 L867.6,324 L880.5,305.9 L884.8,313.3 L884.4,319.3 M892.5,310.9 L884.4,319.3 L886.9,330.9 L888.7,352.8 L891.2,372.9 L895.5,387.1 L879.7,405 M797.4,449.7 L802.9,450.4 M729.2,449 L733.5,455.6 M914.8,565 L919.1,562.4 L925.5,562.4 L931.9,561.3 L941.8,560.2 L952.5,559.7 L950.8,553.8 L950.8,547.8 L952.5,546.1 M952.5,546.1 L947.8,543.9 L946.9,538.3 L942.7,536 L938.4,536 M931.9,525.1 L942.7,526.2 L951.2,529.7 L959.4,533.7 L965.4,537.7 L968.8,534.3 M946.9,538.3 L953.4,537.2 L959.4,533.7 M953.4,537.2 L957.2,544.5 L959.8,550.5 M952.5,546.1 L959.8,550.5 L965.8,546.7 L970.1,553.2 M941.8,560.2 L937.5,566.1 L936.2,574.4 L926.8,579.5 M926.8,579.5 L918.2,585.1 L913.9,583.1 M926.8,579.5 L928.5,585.6 M928.5,585.6 L919.1,589.1 L921.2,596.6 L915.2,600.5 L910.5,599.5 M907.1,590.1 L910.1,599 M910.9,581.1 L913.9,580.1 L913.9,583.1 L912.7,589.1 L910.5,599 M914.8,573.4 L917.4,575.4 L913.9,580.1 M928.5,585.6 L940.5,591.1 L952.1,601 L959.8,601 M959.8,601 L964.9,596.1 M959.8,601 L964.9,603.9 L967.9,603.9 M952.5,559.7 L955.5,566.1 L957.7,571.3 L958.1,581.6 L965.4,586.6 L964.9,591.6 L968.4,596.6 M943.9,659.8 L946.9,655.3 L961.9,655.8 L983.4,648.2 M983.4,648.2 L996.2,643.6 L997.1,631.3 M997.1,631.3 L985.9,630.4 L981.7,624.8 M997.1,631.3 L999.7,624.3 L1001.8,621.1 L1001.8,617.8 M983.4,648.2 L988.1,658.9 M978.2,622.5 L980.4,622.9 M991.5,559.2 L1004.8,554.3 L1014.7,558.1 L1022.8,562.9 L1022.8,568.2 M1022.8,568.2 L1020.2,576.5 L1021.1,589.1 L1025.4,591.6 L1021.5,597.1 M1021.5,597.1 L1029.2,603.9 L1031.8,610.2 L1027.5,613.5 L1024.5,619.6 M1021.5,597.1 L1034.8,599.5 L1044.7,597.1 L1054.1,587.6 L1058.4,581.6 L1064.8,576.5 L1066.9,566.1 L1071.2,561.3 L1079.8,560.8 M1022.8,568.2 L1027.5,569.7 L1036.9,563.4 L1045.5,558.6 L1051.1,559.7 L1058.4,560.8 L1064.4,552.7 L1066.9,558.1 L1072.1,560.8 L1081.5,558.6 M1052.8,626.7 L1064.8,623.9 L1060.5,611.1 L1069.1,606.3 L1075.5,596.6 L1082,584.1 L1077.7,581.6 L1077.7,572.3 L1090.5,568.7 M1104.7,595.6 L1103.8,602.4 L1120.5,609.2 L1135.5,614 L1138.1,614 L1138.1,606.8 M1108.5,595.6 L1120.5,600.5 L1131.2,606.3 L1138.1,606.8 M1141.1,606.8 L1146.2,604.9 L1154.8,607.3 L1154.8,612.1 L1142,612.5 L1141.1,606.8 M1139.4,614 L1145.4,619.6 L1154.8,619.6 L1155.7,625.3 L1152.7,629.9 L1157.4,634.5 L1156.1,639.1 M1139.4,614 L1138.1,622.9 L1142,634.5 M1177.5,604.9 L1172,611.1 L1166.4,620.6 L1160.4,629.9 L1157.4,634.5 M1177.5,604.9 L1183.5,615.9 L1178.8,625.3 L1187,634.5 L1193.8,638.2 M1189.5,642.3 L1179.7,648.2 L1181.8,657.1 L1181.4,666 L1187,679.1 L1183.1,687.8 M1193.8,638.2 L1189.5,642.3 M1189.5,642.3 L1194.2,645.9 L1193.8,653.1 L1202,652.7 L1209.2,654.9 L1210.5,661.6 L1212.7,668.6 M1212.7,668.6 L1202,669.1 L1199.8,674.8 L1201.5,680.4 M1198.5,632.7 L1208.4,639.6 L1206.2,645.9 L1212.7,652.7 L1218.2,659.3 L1221.7,667.3 M1221.7,667.3 L1221.2,679.1 L1214,683.5 L1208.4,686.1 M1212.7,668.6 L1221.7,667.3 M1198.5,632.7 L1209.7,630.8 L1212.7,628.5 L1223.4,636.8 M1198.5,632.7 L1193.8,638.2 M1189.5,703.3 L1193.8,705.9 L1198.1,704.1 M1230.2,722.5 L1234.1,726.3 L1242.7,724.2 L1251.2,724.2 L1256.4,713.6 L1265,712.7 M1364.8,741.7 L1364.8,769.5 M1136.8,489.3 L1144.1,497 L1150.5,506.4 L1161.2,515.5 L1173.7,529.1 L1193.4,529.7 L1210.5,535.4 L1229.8,529.7 L1240.5,523.3 L1242.7,515.5 L1251.2,515.5 L1264.1,505.1 L1273.5,505.8 L1268.4,498.9 L1256,497 L1260.7,485.3 M1136.8,489.3 L1146.2,480.7 L1157,484 L1165.5,480 L1178.4,484.7 L1184.4,469.8 L1197.7,473.9 L1204.1,482.7 L1214.8,482 L1225.5,489.3 L1240.5,488.6 L1253.4,482 L1260.7,485.3 M1260.7,485.3 L1265.4,487.3 L1274.8,473.9 L1279.1,461.3 L1289.8,459.9 L1300.5,467 L1307,484 L1317.7,490.6 L1322,498.9 L1338.3,494.4 L1334.4,506.4 L1330.5,515.5 L1325.8,513.7 L1322.8,528 L1320.3,530.9 M1320.3,530.9 L1309.1,533.2 L1310,536 L1304.4,534.3 L1300.5,539.4 L1293.7,543.9 M1310.8,553.8 L1303.5,556.5 M1136.8,489.3 L1127,503.3 L1116.2,502 L1114.5,514.3 L1104.2,516.1 L1104.7,528.5 L1104.2,533.2 M1104.2,533.2 L1090.5,538.8 L1081.5,542.2 L1076.8,547.2 L1081.5,552.7 L1081.5,558.6 L1079.8,560.8 L1090.5,568.7 L1099.1,573.9 L1100.4,584.1 L1099.1,591.6 L1108.5,595.6 M1141.1,606.8 L1138.1,606.8 M1154.8,607.3 L1169.8,600 L1177.5,604.9 M971.4,507.6 L959.8,497 L963.2,484 L976.9,477.3 L989.8,473.9 L998.4,480.7 L1011.2,477.3 L1024.1,480.7 L1021.9,459.9 L1034.8,456.3 L1054.1,452.7 L1062.7,446.7 L1075.5,456.3 L1088.4,456.3 L1101.2,477.3 L1118.4,478.6 L1136.8,489.3 M985.5,534.3 L994.1,533.2 L1000.5,537.2 M1000.5,537.2 L1000.5,515.5 L1011.2,512.5 L1021.9,524.5 L1032.7,531.4 L1046.4,538.8 L1051.9,538.8 L1062.7,533.2 M1000.5,537.2 L1004.8,537.7 L1013.4,530.3 L1019.8,537.7 L1028.4,544.5 L1039.1,552.7 L1045.5,558.6 M1062.7,533.2 L1066.9,528.5 L1077.7,528.5 L1082,526.2 L1092.7,528.5 L1104.7,528.5 M1062.7,533.2 L1062.7,538.8 L1064.8,543.3 L1058.4,544.5 L1051.9,547.2 L1051.9,553.8 L1051.1,559.7 M1058.4,547.2 L1076.8,547.2 M751.1,570.8 L753.2,576.5 L755.4,586.1 L747.6,588.1 L736.9,599 L723.2,602.9 L723.2,607.8 M703.9,607.8 L723.2,607.8 L723.2,609.7 L723.2,615.9 L709.1,615.9 L709.1,627.6 L704.8,627.6 L704.8,637.7 L687.6,637.7 M723.2,609.7 L739.9,620.6 L765.6,639.1 L774.6,647.7 L785.4,645.9 L811.9,627.6 M739.9,620.6 L732.6,620.6 L734.8,636.8 L736.9,663.8 L719.8,663.8 L711.2,666 L708.2,666.9 M690.2,658.9 L700.5,661.1 L708.2,666.9 L711.6,677.4 L701.8,676.1 L688.9,677.4 M689.4,672.1 L700.5,672.6 L688.9,673.9 M688.9,677.8 L701.8,676.1 M696.2,683.5 L701.8,679.1 L711.6,677.4 M711.6,677.4 L724.1,683.5 L726.2,686.9 L733.9,685.6 L736.9,686.5 L748.5,690 M703.5,692.1 L713.4,687.8 L716.4,694.3 L724.1,698.6 L727.5,694.3 L726.2,686.9 M711.2,701.1 L716.4,694.3 M724.1,698.6 L724.1,702.9 L728.4,711.8 M736.9,663.8 L742.1,672.6 L737.8,679.1 L736.9,686.5 M742.1,672.6 L756.2,666 L761.4,666 L766.1,664.2 L775.5,664.7 L774.6,647.7 M761.4,666 L764.8,674.8 L770.8,679.6 L764.4,683.5 L759.6,683.5 L748.5,683.5 L748.5,690 M748.5,690 L746.8,700.7 L747.2,708.9 M759.6,683.5 L762.6,694.3 L765.6,704.6 M764.4,683.5 L767.4,692.1 L767.8,704.1 M770.8,679.6 L775.9,677.4 L775.9,687.8 L772.1,703.3 M775.9,677.4 L778.1,671.7 L783.2,671.3 L790.5,674.3 L801.2,674.3 L818.8,671.7 M811.9,627.6 L821.4,631.3 L824.8,629.9 L828.2,643.6 L826.9,657.1 L820.5,663.8 L818.8,671.7 M818.8,671.7 L820.9,674.3 L823.1,678.2 L819.6,683.5 L816.2,692.1 L811.1,700.7 L803.4,702.9 L797.4,710.6 M820.9,674.3 L825.2,681.3 L826.9,687.8 L821.4,688.2 L826.1,694.3 L826.5,698.6 L822.6,705 L823.5,711 L829.5,721.2 M802.5,721.2 L817.5,721.2 L829.5,721.2 M800.8,726.3 L808.9,726.3 L808.9,721.2 M817.5,721.2 L821.8,725.1 L822.2,738.3 L810.2,740.8 L808.1,747.6 M829.5,721.2 L840.2,715.7 L844.1,709.3 L856.9,712.3 L865.5,709.3 L877.9,709.3 M829.5,721.2 L836.4,734.9 L829.9,745.5 L820.5,751.9 L812.8,749.4 L812.8,751.9 M813.2,755.3 L816.2,755.3 L831.6,755.8 L833.4,761.8 L843.6,765.2 L847.5,760.5 L853.9,761.8 L855.6,778.6 L863.4,777.7 L863.4,786.4 L854.8,786.4 M812.8,749.4 L815.4,750.6 L816.2,755.3 M824.8,629.9 L829.1,627.6 L863.4,645.9 L863.4,643.6 L867.6,643.6 L867.6,634.5 L867.6,588.6 M801.2,595.6 L799.5,586.1 L796.1,584.1 L795.6,573.4 L797.4,561.3 M801.2,595.6 L801.2,615.9 L803.4,622.9 L811.9,627.6 M801.2,595.6 L804.2,589.1 L809.8,581.1 M867.6,634.5 L895.1,634.5 L918.7,634.5 M863.4,645.9 L863.4,662.9 L858.6,666 L854.8,674.8 L858.6,683.5 L856.9,683.9 M820.9,674.3 L818.8,671.7 M856.9,683.9 L840.2,696.4 L826.9,698.6 M856.9,683.9 L861.6,687.8 L864.2,693.4 L877.9,699.4 L877.9,709.3 M861.6,687.8 L874.5,690 L883.9,689.5 L886.9,686.9 L893.4,688.7 L901.9,684.3 L901.9,678.2 L906.7,683.5 L907.5,687.8 L905.8,694.7 L901.9,697.7 L910.5,705 L914.4,711 M877.9,709.3 L886.9,712.3 L892.9,715.7 L904.1,712.7 L914.4,711 M901.9,678.2 L915.2,676.1 L916.5,668.2 L916.9,665.1 L919.1,657.1 L925.9,652.7 M916.5,668.2 L927.7,667.7 L936.2,670.4 L942.2,676.9 L945.2,676.1 M942.2,676.9 L939.7,683.5 L944.8,683.5 L945.7,681.3 M944.8,683.5 L949.1,690 L961.9,696.4 L966.2,696.4 L953.4,709.3 L944.8,709.7 L940.1,713.6 M914.4,711 L918.7,711.8 L925.5,715.7 L929.8,716.1 L940.1,713.6 L936.2,718.7 L938.8,737.8 M904.1,712.7 L907.9,714.4 L908.4,725.9 L906.2,734.9 L891.2,734.9 L887.4,725.5 L892.9,720.4 L892.9,715.7 M906.2,734.9 L928.5,750.6 M891.2,734.9 L887.4,734.9 L884.8,742.5 L891.2,740.8 L891.2,734.9 M884.8,742.5 L886.1,749.4 L891.2,749.4 L891.2,740.8 M886.1,749.4 L886.9,758.3 L892.5,766.9 L884.4,765.6 L882.2,770.8 L882.2,779.9 L884.8,783.4 L878.8,783 L884.8,788.6 L888.2,788.2 L863.4,777.7 M892.5,766.9 L901.5,770.8 L905.8,771.7 L908.8,779.5 L913.9,780.3 L933.7,775.6 M905.8,771.7 L903.2,777.7 L903.7,783.8 L902.8,790.8 L900.7,788.6 L890.4,792.6 L890.8,797.9 L888.2,788.2 M913.9,780.3 L909.2,788.6 L913.9,793 L911.8,799.6 L910.9,804.5 L907.9,799.6 L907.9,792.6 L902.8,790.8 M890.8,797.9 L884.4,799.6 L868.9,807.7 L863.4,806.8 L850.5,808.5 L839.4,805.9 L818.4,805.9 L811.1,804.1 M854.8,786.4 L854.8,800.5 L860.8,806.8 M868.9,807.7 L868.9,810.8 L879.2,819.8 L886.5,827.6 L894.7,828.5 L900.7,819.8 L901.1,813 L901.9,802.7 L890.8,797.9 M886.5,827.6 L871.5,839.2 L859.1,843.4 L853.5,849.6 L846.2,849.1 L846.2,826.7 L850.5,826.7 L850.5,808.5 M846.2,849.1 L846.2,856.8 L831.2,857.8 M894.7,828.5 L897.2,844.9 L898.1,849.1 L901.5,849.1 M897.2,844.9 L892.5,849.1 L895.9,851.5 L898.1,849.1 M883.5,857.8 L878.4,861.7 L878.4,867.6 L884.8,864.6 L883.5,857.8"/>
<rect x="0" y="130" width="1600" height="200" fill="url(#fade)"/>
<rect x="30" y="28.5" width="1540" height="2" fill="#111"/>
<rect x="30" y="1717.2" width="1540" height="2.3" fill="#111"/>
<text x="29.5" y="103.3" font-size="83.35755813953489" textLength="166.3" lengthAdjust="spacingAndGlyphs" font-weight="bold" stroke="#000" stroke-width="3.4" stroke-linejoin="miter">Hava</text>
<text x="222.2" y="103.3" font-size="83.35755813953489" textLength="357.6" lengthAdjust="spacingAndGlyphs" font-weight="bold" stroke="#000" stroke-width="3.4" stroke-linejoin="miter">kirliliğinin</text>
<text x="601.5" y="103.3" font-size="83.35755813953489" textLength="94.8" lengthAdjust="spacingAndGlyphs" font-weight="bold" stroke="#000" stroke-width="3.4" stroke-linejoin="miter">en</text>
<text x="711.6" y="103.3" font-size="83.35755813953489" textLength="243.6" lengthAdjust="spacingAndGlyphs" font-weight="bold" stroke="#000" stroke-width="3.4" stroke-linejoin="miter">yüksek</text>
<text x="978.3" y="103.3" font-size="83.35755813953489" textLength="240.4" lengthAdjust="spacingAndGlyphs" font-weight="bold" stroke="#000" stroke-width="3.4" stroke-linejoin="miter">olduğu</text>
<text x="1238.5" y="103.3" font-size="83.35755813953489" textLength="244.9" lengthAdjust="spacingAndGlyphs" font-weight="bold" stroke="#000" stroke-width="3.4" stroke-linejoin="miter">kentler</text>
<text x="28.9" y="179.3" font-size="44" textLength="820.6" lengthAdjust="spacingAndGlyphs" stroke="#000" stroke-width="0.4">En kirli havaya sahip 10 kentin 4’ü <tspan font-weight="bold">Hindistan</tspan>’da.</text>
<g fill="#206e39" fill-opacity="0.93">
<circle cx="218" cy="360" r="8.8"/>
<circle cx="317.5" cy="498.8" r="8.8"/>
<circle cx="302" cy="534.5" r="8.8"/>
<circle cx="309.5" cy="527.5" r="8.8"/>
<circle cx="318" cy="523.8" r="8.8"/>
<circle cx="274" cy="577.5" r="8.8"/>
<circle cx="466.3" cy="498.8" r="8.8"/>
<circle cx="844.6" cy="332" r="8.8"/>
<circle cx="860" cy="332" r="8.8"/>
</g>
<circle cx="1474.4" cy="949.4" r="8.8" fill="#1c8d49"/>
<path d="M1467,955 L1474,944 L1481,944 A8.8,8.8 0 0 1 1480,956 Z" fill="#206e39" opacity="0.9"/>
<circle cx="970.6" cy="611.9" r="8.8" fill="#f26a25"/>
<clipPath id="cub"><path d="M958,600 L966,603 L977,620 L972,626 L958,626Z"/></clipPath>
<circle cx="970.6" cy="611.9" r="8.8" fill="#bf5533" clip-path="url(#cub)"/>
<g fill="#bf5533" fill-opacity="0.93">
<circle cx="958.1" cy="622.8" r="8.8"/>
<circle cx="1021.3" cy="592" r="8.8"/>
<circle cx="1092.5" cy="615.5" r="8.8"/>
<circle cx="1108" cy="619.3" r="8.8"/>
<circle cx="1123" cy="618" r="8.8"/>
<circle cx="1107" cy="638.8" r="8.8"/>
<circle cx="802.5" cy="705.5" r="8.8"/>
<circle cx="1251.8" cy="551.3" r="8.8"/>
<circle cx="1247.5" cy="561.3" r="8.8"/>
</g>
<g fill="none" stroke="#111" stroke-width="1.5">
<path d="M325,524.5 H364 Q368,524.5 368,528.5 V549"/>
<path d="M313.8,534 V604.5 Q313.8,610.5 319.8,610.5 H355"/>
<path d="M1108.8,526 V611"/>
<path d="M1247.5,570 V588 Q1247.5,594.5 1254,594.5 H1266"/>
</g>
<text x="230.1" y="368" font-size="34.5" textLength="180.4" lengthAdjust="spacingAndGlyphs" stroke="#000" stroke-width="0.6">Norman Wells</text>
<text x="74.7" y="480" font-size="34.5" textLength="278.0" lengthAdjust="spacingAndGlyphs" stroke="#000" stroke-width="0.6">McKenzie County, ND</text>
<text x="131.7" y="542.5" font-size="34.5" textLength="152.7" lengthAdjust="spacingAndGlyphs" stroke="#000" stroke-width="0.6">Sinclair, WY</text>
<text x="105.9" y="585" font-size="34.5" textLength="152.5" lengthAdjust="spacingAndGlyphs" stroke="#000" stroke-width="0.6">Wenden, AZ</text>
<text x="482.9" y="507" font-size="34.5" textLength="86.3" lengthAdjust="spacingAndGlyphs" stroke="#000" stroke-width="0.6">Auclair</text>
<text x="358.6" y="579.3" font-size="34.5" textLength="234.1" lengthAdjust="spacingAndGlyphs" stroke="#000" stroke-width="0.6">Custer County, SD</text>
<text x="358.6" y="620" font-size="34.5" textLength="274.0" lengthAdjust="spacingAndGlyphs" stroke="#000" stroke-width="0.6">Converse County, WY</text>
<text x="749.3" y="341" font-size="34.5" textLength="82.2" lengthAdjust="spacingAndGlyphs" stroke="#000" stroke-width="0.6">Kiruna</text>
<text x="873.6" y="341" font-size="34.5" textLength="95.4" lengthAdjust="spacingAndGlyphs" stroke="#000" stroke-width="0.6">Muonio</text>
<text x="1046.2" y="515" font-size="34.5" textLength="125.6" lengthAdjust="spacingAndGlyphs" stroke="#000" stroke-width="0.6">Allahabad</text>
<text x="1012.9" y="573.3" font-size="34.5" textLength="71.0" lengthAdjust="spacingAndGlyphs" stroke="#000" stroke-width="0.6">Zabul</text>
<text x="861.1" y="592.5" font-size="34.5" textLength="87.1" lengthAdjust="spacingAndGlyphs" stroke="#000" stroke-width="0.6">Cübeyl</text>
<text x="871.5" y="631.3" font-size="34.5" textLength="71.6" lengthAdjust="spacingAndGlyphs" stroke="#000" stroke-width="0.6">Riyad</text>
<text x="1136.5" y="626.3" font-size="34.5" textLength="72.3" lengthAdjust="spacingAndGlyphs" stroke="#000" stroke-width="0.6">Patna</text>
<text x="1097.7" y="680" font-size="34.5" textLength="84.1" lengthAdjust="spacingAndGlyphs" stroke="#000" stroke-width="0.6">Raipur</text>
<text x="815.2" y="712" font-size="34.5" textLength="121.8" lengthAdjust="spacingAndGlyphs" stroke="#000" stroke-width="0.6">Bamenda</text>
<text x="1268.9" y="556.3" font-size="34.5" textLength="105.4" lengthAdjust="spacingAndGlyphs" stroke="#000" stroke-width="0.6">Baoding</text>
<text x="1270.4" y="603.8" font-size="34.5" textLength="92.1" lengthAdjust="spacingAndGlyphs" stroke="#000" stroke-width="0.6">Zingtay</text>
<text x="94.2" y="780.3" font-size="34.5" textLength="158.2" lengthAdjust="spacingAndGlyphs" stroke="#000" stroke-width="0.6">En kirli hava</text>
<text x="94.3" y="859.4" font-size="34.5" textLength="180.5" lengthAdjust="spacingAndGlyphs" stroke="#000" stroke-width="0.6">En temiz hava</text>
<text x="1348.3" y="959" font-size="33" textLength="111.2" lengthAdjust="spacingAndGlyphs" fill="#111" stroke="#fff" stroke-width="0.35">Te Anau</text>
<circle cx="76.9" cy="771.6" r="9" fill="#f26a25"/>
<circle cx="76.9" cy="851" r="9" fill="#1c8d49"/>
<text x="28.1" y="1054.5" font-size="34.5" textLength="512.4" lengthAdjust="spacingAndGlyphs" stroke="#000" stroke-width="0.6">Hava kirliliğini en yüksek olduğu kentler</text>
<text x="29.9" y="1096" font-size="34.5" textLength="59.6" lengthAdjust="spacingAndGlyphs" stroke="#000" stroke-width="0.6">Yıllık</text>
<text x="104.8" y="1096" font-size="34.5" textLength="27.3" lengthAdjust="spacingAndGlyphs" stroke="#000" stroke-width="0.6">m</text>
<text x="131.3" y="1088.8" font-size="34.5" textLength="17.6" lengthAdjust="spacingAndGlyphs" stroke="#000" stroke-width="0.6">3</text>
<text x="156.1" y="1096" font-size="34.5" textLength="274.3" lengthAdjust="spacingAndGlyphs" stroke="#000" stroke-width="0.6">başına PM 2.5 değeri</text>
<text x="28.5" y="1170.5" font-size="34.5" textLength="68.1" lengthAdjust="spacingAndGlyphs" stroke="#000" stroke-width="0.6">ÜLKE</text>
<text x="295.2" y="1170.5" font-size="34.5" textLength="75.5" lengthAdjust="spacingAndGlyphs" fill="#333" stroke="#fff" stroke-width="0.9">KENT</text>
<text x="27.7" y="1215.6" font-size="34.5" textLength="52.3" lengthAdjust="spacingAndGlyphs" stroke="#000" stroke-width="0.6">Iran</text>
<text x="300.1" y="1215.6" font-size="34.5" textLength="71.8" lengthAdjust="spacingAndGlyphs" stroke="#000" stroke-width="0.6">Zabul</text>
<rect x="385.5" y="1189.0" width="443.0" height="31.6" fill="#f16724"/>
<text x="761.9" y="1216.1" font-size="31" textLength="52.7" lengthAdjust="spacingAndGlyphs" fill="#fff" stroke="#f16724" stroke-width="0.7">217</text>
<text x="28.0" y="1260.3" font-size="34.5" textLength="70.2" lengthAdjust="spacingAndGlyphs" stroke="#000" stroke-width="0.6">Hind.</text>
<text x="252.6" y="1260.3" font-size="34.5" textLength="117.9" lengthAdjust="spacingAndGlyphs" stroke="#000" stroke-width="0.6">Gavaliyor</text>
<rect x="385.5" y="1233.7" width="359.3" height="31.6" fill="#f16724"/>
<text x="677.4" y="1260.8" font-size="31" textLength="53.3" lengthAdjust="spacingAndGlyphs" fill="#fff" stroke="#f16724" stroke-width="0.7">176</text>
<text x="28.0" y="1305.0" font-size="34.5" textLength="70.2" lengthAdjust="spacingAndGlyphs" stroke="#000" stroke-width="0.6">Hind.</text>
<text x="244.9" y="1305.0" font-size="34.5" textLength="126.9" lengthAdjust="spacingAndGlyphs" stroke="#000" stroke-width="0.6">Allahabad</text>
<rect x="385.5" y="1278.4" width="347.1" height="31.6" fill="#f16724"/>
<text x="665.1" y="1305.5" font-size="31" textLength="53.2" lengthAdjust="spacingAndGlyphs" fill="#fff" stroke="#f16724" stroke-width="0.7">170</text>
<text x="29.2" y="1349.8" font-size="34.5" textLength="203.7" lengthAdjust="spacingAndGlyphs" stroke="#000" stroke-width="0.6">Suudi Arabistan</text>
<text x="298.7" y="1349.8" font-size="34.5" textLength="73.2" lengthAdjust="spacingAndGlyphs" stroke="#000" stroke-width="0.6">Riyad</text>
<rect x="385.5" y="1323.2" width="318.5" height="31.6" fill="#f16724"/>
<text x="636.5" y="1350.3" font-size="31" textLength="53.3" lengthAdjust="spacingAndGlyphs" fill="#fff" stroke="#f16724" stroke-width="0.7">156</text>
<text x="29.2" y="1394.5" font-size="34.5" textLength="203.7" lengthAdjust="spacingAndGlyphs" stroke="#000" stroke-width="0.6">Suudi Arabistan</text>
<text x="283.6" y="1394.5" font-size="34.5" textLength="88.3" lengthAdjust="spacingAndGlyphs" stroke="#000" stroke-width="0.6">Cübeyl</text>
<rect x="385.5" y="1367.9" width="310.3" height="31.6" fill="#f16724"/>
<text x="628.4" y="1395.0" font-size="31" textLength="53.6" lengthAdjust="spacingAndGlyphs" fill="#fff" stroke="#f16724" stroke-width="0.7">152</text>
<text x="28.0" y="1439.2" font-size="34.5" textLength="70.2" lengthAdjust="spacingAndGlyphs" stroke="#000" stroke-width="0.6">Hind.</text>
<text x="296.7" y="1439.2" font-size="34.5" textLength="73.3" lengthAdjust="spacingAndGlyphs" stroke="#000" stroke-width="0.6">Patna</text>
<rect x="385.5" y="1412.6" width="304.2" height="31.6" fill="#f16724"/>
<text x="622.2" y="1439.7" font-size="31" textLength="53.5" lengthAdjust="spacingAndGlyphs" fill="#fff" stroke="#f16724" stroke-width="0.7">149</text>
<text x="28.0" y="1483.9" font-size="34.5" textLength="70.2" lengthAdjust="spacingAndGlyphs" stroke="#000" stroke-width="0.6">Hind.</text>
<text x="285.6" y="1483.9" font-size="34.5" textLength="84.8" lengthAdjust="spacingAndGlyphs" stroke="#000" stroke-width="0.6">Raipur</text>
<rect x="385.5" y="1457.3" width="294.0" height="31.6" fill="#f16724"/>
<text x="612.1" y="1484.4" font-size="31" textLength="52.8" lengthAdjust="spacingAndGlyphs" fill="#fff" stroke="#f16724" stroke-width="0.7">144</text>
<text x="28.1" y="1528.6" font-size="34.5" textLength="118.8" lengthAdjust="spacingAndGlyphs" stroke="#000" stroke-width="0.6">Kamerun</text>
<text x="247.7" y="1528.6" font-size="34.5" textLength="122.3" lengthAdjust="spacingAndGlyphs" stroke="#000" stroke-width="0.6">Bamenda</text>
<rect x="385.5" y="1502.0" width="269.5" height="31.6" fill="#f16724"/>
<text x="587.5" y="1529.1" font-size="31" textLength="53.6" lengthAdjust="spacingAndGlyphs" fill="#fff" stroke="#f16724" stroke-width="0.7">132</text>
<text x="29.0" y="1573.4" font-size="34.5" textLength="43.3" lengthAdjust="spacingAndGlyphs" stroke="#000" stroke-width="0.6">Çin</text>
<text x="276.1" y="1573.4" font-size="34.5" textLength="94.0" lengthAdjust="spacingAndGlyphs" stroke="#000" stroke-width="0.6">Zingtay</text>
<rect x="385.5" y="1546.8" width="261.3" height="31.6" fill="#f16724"/>
<text x="579.4" y="1573.9" font-size="31" textLength="53.3" lengthAdjust="spacingAndGlyphs" fill="#fff" stroke="#f16724" stroke-width="0.7">128</text>
<text x="29.0" y="1618.1" font-size="34.5" textLength="43.3" lengthAdjust="spacingAndGlyphs" stroke="#000" stroke-width="0.6">Çin</text>
<text x="265.1" y="1618.1" font-size="34.5" textLength="106.8" lengthAdjust="spacingAndGlyphs" stroke="#000" stroke-width="0.6">Baoding</text>
<rect x="385.5" y="1591.5" width="257.2" height="31.6" fill="#f16724"/>
<text x="575.3" y="1618.6" font-size="31" textLength="53.3" lengthAdjust="spacingAndGlyphs" fill="#fff" stroke="#f16724" stroke-width="0.7">126</text>
<path d="M903.4,1039 V1627" stroke="#222" stroke-width="2" stroke-dasharray="2 2.5" fill="none"/>
<text x="975.6" y="1054.5" font-size="34.5" textLength="386.9" lengthAdjust="spacingAndGlyphs" stroke="#000" stroke-width="0.6">En temiz havaya sahip kentler</text>
<text x="977.4" y="1096" font-size="34.5" textLength="59.6" lengthAdjust="spacingAndGlyphs" stroke="#000" stroke-width="0.6">Yıllık</text>
<text x="1052.3" y="1096" font-size="34.5" textLength="27.3" lengthAdjust="spacingAndGlyphs" stroke="#000" stroke-width="0.6">m</text>
<text x="1078.8" y="1088.8" font-size="34.5" textLength="17.6" lengthAdjust="spacingAndGlyphs" stroke="#000" stroke-width="0.6">3</text>
<text x="1103.6" y="1096" font-size="34.5" textLength="274.3" lengthAdjust="spacingAndGlyphs" stroke="#000" stroke-width="0.6">başına PM 2.5 değeri</text>
<text x="975.9" y="1170.5" font-size="34.5" textLength="69.7" lengthAdjust="spacingAndGlyphs" stroke="#000" stroke-width="0.6">ÜLKE</text>
<text x="1416.8" y="1170.5" font-size="34.5" textLength="70.3" lengthAdjust="spacingAndGlyphs" stroke="#000" stroke-width="0.6">KENT</text>
<text x="977.9" y="1215.6" font-size="34.5" textLength="55.3" lengthAdjust="spacingAndGlyphs" stroke="#000" stroke-width="0.6">ABD</text>
<text x="1332.7" y="1215.6" font-size="34.5" textLength="154.4" lengthAdjust="spacingAndGlyphs" stroke="#000" stroke-width="0.6">Sinclair, WY</text>
<rect x="1502.4" y="1189.0" width="4.2" height="31.6" fill="#1c9a4c"/>
<text x="1521.3" y="1217.1" font-size="31" textLength="18.3" lengthAdjust="spacingAndGlyphs" fill="#444" stroke="#fff" stroke-width="0.7">2</text>
<text x="977.9" y="1260.3" font-size="34.5" textLength="55.3" lengthAdjust="spacingAndGlyphs" stroke="#000" stroke-width="0.6">ABD</text>
<text x="1332.9" y="1260.3" font-size="34.5" textLength="154.5" lengthAdjust="spacingAndGlyphs" stroke="#000" stroke-width="0.6">Wenden, AZ</text>
<rect x="1502.4" y="1233.7" width="4.2" height="31.6" fill="#1c9a4c"/>
<text x="1521.3" y="1261.8" font-size="31" textLength="18.3" lengthAdjust="spacingAndGlyphs" fill="#444" stroke="#fff" stroke-width="0.7">2</text>
<text x="975.6" y="1305.0" font-size="34.5" textLength="131.9" lengthAdjust="spacingAndGlyphs" stroke="#000" stroke-width="0.6">Finlandiya</text>
<text x="1390.6" y="1305.0" font-size="34.5" textLength="97.2" lengthAdjust="spacingAndGlyphs" stroke="#000" stroke-width="0.6">Muonio</text>
<rect x="1502.4" y="1278.4" width="4.2" height="31.6" fill="#1c9a4c"/>
<text x="1521.3" y="1306.5" font-size="31" textLength="18.3" lengthAdjust="spacingAndGlyphs" fill="#444" stroke="#fff" stroke-width="0.7">2</text>
<text x="975.6" y="1349.8" font-size="34.5" textLength="77.4" lengthAdjust="spacingAndGlyphs" stroke="#000" stroke-width="0.6">İSVEÇ</text>
<text x="1402.6" y="1349.8" font-size="34.5" textLength="83.9" lengthAdjust="spacingAndGlyphs" stroke="#000" stroke-width="0.6">Kiruna</text>
<rect x="1502.4" y="1323.2" width="4.2" height="31.6" fill="#1c9a4c"/>
<text x="1521.3" y="1351.3" font-size="31" textLength="18.3" lengthAdjust="spacingAndGlyphs" fill="#444" stroke="#fff" stroke-width="0.7">2</text>
<text x="977.9" y="1394.5" font-size="34.5" textLength="55.3" lengthAdjust="spacingAndGlyphs" stroke="#000" stroke-width="0.6">ABD</text>
<text x="1212.1" y="1394.5" font-size="34.5" textLength="275.0" lengthAdjust="spacingAndGlyphs" stroke="#000" stroke-width="0.6">Converse County, WY</text>
<rect x="1502.4" y="1367.9" width="4.2" height="31.6" fill="#1c9a4c"/>
<text x="1521.3" y="1396.0" font-size="31" textLength="18.3" lengthAdjust="spacingAndGlyphs" fill="#444" stroke="#fff" stroke-width="0.7">2</text>
<text x="977.9" y="1439.2" font-size="34.5" textLength="55.3" lengthAdjust="spacingAndGlyphs" stroke="#000" stroke-width="0.6">ABD</text>
<text x="1252.6" y="1439.2" font-size="34.5" textLength="235.3" lengthAdjust="spacingAndGlyphs" stroke="#000" stroke-width="0.6">Custer County, SD</text>
<rect x="1502.4" y="1412.6" width="4.2" height="31.6" fill="#1c9a4c"/>
<text x="1521.3" y="1440.7" font-size="31" textLength="18.3" lengthAdjust="spacingAndGlyphs" fill="#444" stroke="#fff" stroke-width="0.7">2</text>
<text x="977.4" y="1483.9" font-size="34.5" textLength="164.6" lengthAdjust="spacingAndGlyphs" stroke="#000" stroke-width="0.6">Yeni Zelanda</text>
<text x="1381.8" y="1483.9" font-size="34.5" textLength="106.6" lengthAdjust="spacingAndGlyphs" stroke="#000" stroke-width="0.6">Te Anau</text>
<rect x="1502.4" y="1457.3" width="6.4" height="31.6" fill="#1c9a4c"/>
<text x="1521.8" y="1485.4" font-size="31" textLength="17.6" lengthAdjust="spacingAndGlyphs" fill="#444" stroke="#fff" stroke-width="0.7">3</text>
<text x="975.7" y="1528.6" font-size="34.5" textLength="97.8" lengthAdjust="spacingAndGlyphs" stroke="#000" stroke-width="0.6">Kanada</text>
<text x="1398.4" y="1528.6" font-size="34.5" textLength="88.5" lengthAdjust="spacingAndGlyphs" stroke="#000" stroke-width="0.6">Auclair</text>
<rect x="1502.4" y="1502.0" width="6.4" height="31.6" fill="#1c9a4c"/>
<text x="1521.8" y="1530.1" font-size="31" textLength="17.6" lengthAdjust="spacingAndGlyphs" fill="#444" stroke="#fff" stroke-width="0.7">3</text>
<text x="975.7" y="1573.4" font-size="34.5" textLength="97.8" lengthAdjust="spacingAndGlyphs" stroke="#000" stroke-width="0.6">Kanada</text>
<text x="1305.6" y="1573.4" font-size="34.5" textLength="181.9" lengthAdjust="spacingAndGlyphs" stroke="#000" stroke-width="0.6">Norman Wells</text>
<rect x="1502.4" y="1546.8" width="6.4" height="31.6" fill="#1c9a4c"/>
<text x="1521.8" y="1574.9" font-size="31" textLength="17.6" lengthAdjust="spacingAndGlyphs" fill="#444" stroke="#fff" stroke-width="0.7">3</text>
<text x="977.9" y="1618.1" font-size="34.5" textLength="55.3" lengthAdjust="spacingAndGlyphs" stroke="#000" stroke-width="0.6">ABD</text>
<text x="1208.1" y="1618.1" font-size="34.5" textLength="279.7" lengthAdjust="spacingAndGlyphs" stroke="#000" stroke-width="0.6">McKenzie County, ND</text>
<rect x="1502.4" y="1591.5" width="6.4" height="31.6" fill="#1c9a4c"/>
<text x="1521.8" y="1619.6" font-size="31" textLength="17.6" lengthAdjust="spacingAndGlyphs" fill="#444" stroke="#fff" stroke-width="0.7">3</text>
<text x="28.3" y="1701" font-size="31" textLength="421.5" lengthAdjust="spacingAndGlyphs" fill="#555" stroke="#fff" stroke-width="0.6">Kaynak: World Health Organisation</text>
<text x="1468.6" y="1746" font-size="22.2" textLength="102.3" lengthAdjust="spacingAndGlyphs" font-weight="bold" fill="#111" stroke="#111" stroke-width="0.5">REUTERS</text>
<g fill="#161616"><circle cx="1461.2" cy="1738.5" r="0.8"/><circle cx="1460.6" cy="1742.7" r="0.8"/><circle cx="1459.0" cy="1746.6" r="0.8"/><circle cx="1456.5" cy="1750.0" r="0.8"/><circle cx="1453.1" cy="1752.5" r="0.8"/><circle cx="1449.2" cy="1754.1" r="0.8"/><circle cx="1445.0" cy="1754.7" r="0.8"/><circle cx="1440.8" cy="1754.1" r="0.8"/><circle cx="1436.9" cy="1752.5" r="0.8"/><circle cx="1433.5" cy="1750.0" r="0.8"/><circle cx="1431.0" cy="1746.6" r="0.8"/><circle cx="1429.4" cy="1742.7" r="0.8"/><circle cx="1428.8" cy="1738.5" r="0.8"/><circle cx="1429.4" cy="1734.3" r="0.8"/><circle cx="1431.0" cy="1730.4" r="0.8"/><circle cx="1433.5" cy="1727.0" r="0.8"/><circle cx="1436.9" cy="1724.5" r="0.8"/><circle cx="1440.8" cy="1722.9" r="0.8"/><circle cx="1445.0" cy="1722.3" r="0.8"/><circle cx="1449.2" cy="1722.9" r="0.8"/><circle cx="1453.1" cy="1724.5" r="0.8"/><circle cx="1456.5" cy="1727.0" r="0.8"/><circle cx="1459.0" cy="1730.4" r="0.8"/><circle cx="1460.6" cy="1734.3" r="0.8"/><circle cx="1458.9" cy="1740.3" r="1.35"/><circle cx="1457.9" cy="1743.9" r="1.35"/><circle cx="1456.1" cy="1747.0" r="1.35"/><circle cx="1453.5" cy="1749.6" r="1.35"/><circle cx="1450.4" cy="1751.4" r="1.35"/><circle cx="1446.8" cy="1752.4" r="1.35"/><circle cx="1443.2" cy="1752.4" r="1.35"/><circle cx="1439.6" cy="1751.4" r="1.35"/><circle cx="1436.5" cy="1749.6" r="1.35"/><circle cx="1433.9" cy="1747.0" r="1.35"/><circle cx="1432.1" cy="1743.9" r="1.35"/><circle cx="1431.1" cy="1740.3" r="1.35"/><circle cx="1431.1" cy="1736.7" r="1.35"/><circle cx="1432.1" cy="1733.1" r="1.35"/><circle cx="1433.9" cy="1730.0" r="1.35"/><circle cx="1436.5" cy="1727.4" r="1.35"/><circle cx="1439.6" cy="1725.6" r="1.35"/><circle cx="1443.2" cy="1724.6" r="1.35"/><circle cx="1446.8" cy="1724.6" r="1.35"/><circle cx="1450.4" cy="1725.6" r="1.35"/><circle cx="1453.5" cy="1727.4" r="1.35"/><circle cx="1456.1" cy="1730.0" r="1.35"/><circle cx="1457.9" cy="1733.1" r="1.35"/><circle cx="1458.9" cy="1736.7" r="1.35"/><circle cx="1456.9" cy="1738.5" r="1.2"/><circle cx="1456.5" cy="1741.6" r="1.2"/><circle cx="1455.3" cy="1744.5" r="1.2"/><circle cx="1453.4" cy="1746.9" r="1.2"/><circle cx="1451.0" cy="1748.8" r="1.2"/><circle cx="1448.1" cy="1750.0" r="1.2"/><circle cx="1445.0" cy="1750.4" r="1.2"/><circle cx="1441.9" cy="1750.0" r="1.2"/><circle cx="1439.0" cy="1748.8" r="1.2"/><circle cx="1436.6" cy="1746.9" r="1.2"/><circle cx="1434.7" cy="1744.5" r="1.2"/><circle cx="1433.5" cy="1741.6" r="1.2"/><circle cx="1433.1" cy="1738.5" r="1.2"/><circle cx="1433.5" cy="1735.4" r="1.2"/><circle cx="1434.7" cy="1732.5" r="1.2"/><circle cx="1436.6" cy="1730.1" r="1.2"/><circle cx="1439.0" cy="1728.2" r="1.2"/><circle cx="1441.9" cy="1727.0" r="1.2"/><circle cx="1445.0" cy="1726.6" r="1.2"/><circle cx="1448.1" cy="1727.0" r="1.2"/><circle cx="1451.0" cy="1728.2" r="1.2"/><circle cx="1453.4" cy="1730.1" r="1.2"/><circle cx="1455.3" cy="1732.5" r="1.2"/><circle cx="1456.5" cy="1735.4" r="1.2"/><circle cx="1454.9" cy="1739.8" r="1.0"/><circle cx="1454.2" cy="1742.3" r="1.0"/><circle cx="1452.9" cy="1744.6" r="1.0"/><circle cx="1451.1" cy="1746.4" r="1.0"/><circle cx="1448.8" cy="1747.7" r="1.0"/><circle cx="1446.3" cy="1748.4" r="1.0"/><circle cx="1443.7" cy="1748.4" r="1.0"/><circle cx="1441.2" cy="1747.7" r="1.0"/><circle cx="1438.9" cy="1746.4" r="1.0"/><circle cx="1437.1" cy="1744.6" r="1.0"/><circle cx="1435.8" cy="1742.3" r="1.0"/><circle cx="1435.1" cy="1739.8" r="1.0"/><circle cx="1435.1" cy="1737.2" r="1.0"/><circle cx="1435.8" cy="1734.7" r="1.0"/><circle cx="1437.1" cy="1732.4" r="1.0"/><circle cx="1438.9" cy="1730.6" r="1.0"/><circle cx="1441.2" cy="1729.3" r="1.0"/><circle cx="1443.7" cy="1728.6" r="1.0"/><circle cx="1446.3" cy="1728.6" r="1.0"/><circle cx="1448.8" cy="1729.3" r="1.0"/><circle cx="1451.1" cy="1730.6" r="1.0"/><circle cx="1452.9" cy="1732.4" r="1.0"/><circle cx="1454.2" cy="1734.7" r="1.0"/><circle cx="1454.9" cy="1737.2" r="1.0"/><circle cx="1453.3" cy="1738.5" r="0.8"/><circle cx="1453.0" cy="1740.6" r="0.8"/><circle cx="1452.2" cy="1742.7" r="0.8"/><circle cx="1450.9" cy="1744.4" r="0.8"/><circle cx="1449.2" cy="1745.7" r="0.8"/><circle cx="1447.1" cy="1746.5" r="0.8"/><circle cx="1445.0" cy="1746.8" r="0.8"/><circle cx="1442.9" cy="1746.5" r="0.8"/><circle cx="1440.8" cy="1745.7" r="0.8"/><circle cx="1439.1" cy="1744.4" r="0.8"/><circle cx="1437.8" cy="1742.7" r="0.8"/><circle cx="1437.0" cy="1740.6" r="0.8"/><circle cx="1436.7" cy="1738.5" r="0.8"/><circle cx="1437.0" cy="1736.4" r="0.8"/><circle cx="1437.8" cy="1734.3" r="0.8"/><circle cx="1439.1" cy="1732.6" r="0.8"/><circle cx="1440.8" cy="1731.3" r="0.8"/><circle cx="1442.9" cy="1730.5" r="0.8"/><circle cx="1445.0" cy="1730.2" r="0.8"/><circle cx="1447.1" cy="1730.5" r="0.8"/><circle cx="1449.2" cy="1731.3" r="0.8"/><circle cx="1450.9" cy="1732.6" r="0.8"/><circle cx="1452.2" cy="1734.3" r="0.8"/><circle cx="1453.0" cy="1736.4" r="0.8"/><circle cx="1451.7" cy="1739.4" r="0.6"/><circle cx="1451.3" cy="1741.1" r="0.6"/><circle cx="1450.4" cy="1742.6" r="0.6"/><circle cx="1449.1" cy="1743.9" r="0.6"/><circle cx="1447.6" cy="1744.8" r="0.6"/><circle cx="1445.9" cy="1745.2" r="0.6"/><circle cx="1444.1" cy="1745.2" r="0.6"/><circle cx="1442.4" cy="1744.8" r="0.6"/><circle cx="1440.9" cy="1743.9" r="0.6"/><circle cx="1439.6" cy="1742.6" r="0.6"/><circle cx="1438.7" cy="1741.1" r="0.6"/><circle cx="1438.3" cy="1739.4" r="0.6"/><circle cx="1438.3" cy="1737.6" r="0.6"/><circle cx="1438.7" cy="1735.9" r="0.6"/><circle cx="1439.6" cy="1734.4" r="0.6"/><circle cx="1440.9" cy="1733.1" r="0.6"/><circle cx="1442.4" cy="1732.2" r="0.6"/><circle cx="1444.1" cy="1731.8" r="0.6"/><circle cx="1445.9" cy="1731.8" r="0.6"/><circle cx="1447.6" cy="1732.2" r="0.6"/><circle cx="1449.1" cy="1733.1" r="0.6"/><circle cx="1450.4" cy="1734.4" r="0.6"/><circle cx="1451.3" cy="1735.9" r="0.6"/><circle cx="1451.7" cy="1737.6" r="0.6"/><circle cx="1450.6" cy="1738.5" r="0.45"/><circle cx="1450.4" cy="1739.9" r="0.45"/><circle cx="1449.8" cy="1741.3" r="0.45"/><circle cx="1449.0" cy="1742.5" r="0.45"/><circle cx="1447.8" cy="1743.3" r="0.45"/><circle cx="1446.4" cy="1743.9" r="0.45"/><circle cx="1445.0" cy="1744.1" r="0.45"/><circle cx="1443.6" cy="1743.9" r="0.45"/><circle cx="1442.2" cy="1743.3" r="0.45"/><circle cx="1441.0" cy="1742.5" r="0.45"/><circle cx="1440.2" cy="1741.3" r="0.45"/><circle cx="1439.6" cy="1739.9" r="0.45"/><circle cx="1439.4" cy="1738.5" r="0.45"/><circle cx="1439.6" cy="1737.1" r="0.45"/><circle cx="1440.2" cy="1735.7" r="0.45"/><circle cx="1441.0" cy="1734.5" r="0.45"/><circle cx="1442.2" cy="1733.7" r="0.45"/><circle cx="1443.6" cy="1733.1" r="0.45"/><circle cx="1445.0" cy="1732.9" r="0.45"/><circle cx="1446.4" cy="1733.1" r="0.45"/><circle cx="1447.8" cy="1733.7" r="0.45"/><circle cx="1449.0" cy="1734.5" r="0.45"/><circle cx="1449.8" cy="1735.7" r="0.45"/><circle cx="1450.4" cy="1737.1" r="0.45"/></g>
</svg></body></html>
